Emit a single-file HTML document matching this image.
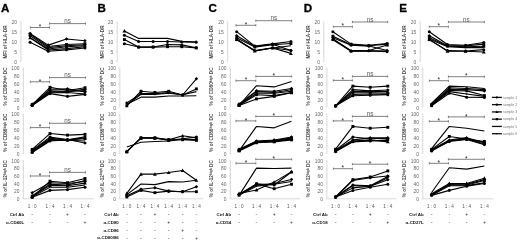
<!DOCTYPE html>
<html><head><meta charset="utf-8"><style>
html,body{margin:0;padding:0;background:#fff;width:520px;height:242px;overflow:hidden;}
svg{display:block;filter:blur(0.4px);}
</style></head><body>
<svg width="520" height="242" viewBox="0 0 520 242" font-family='"Liberation Sans", sans-serif'>
<rect width="520" height="242" fill="#fff"/>
<text x="1.00" y="11.7" font-size="11.6" font-weight="bold" fill="#000" stroke="#000" stroke-width="0.3">A</text>
<line x1="20.97" y1="22.00" x2="20.97" y2="61.50" stroke="#cfcfcf" stroke-width="0.8"/>
<line x1="19.77" y1="61.50" x2="20.97" y2="61.50" stroke="#cfcfcf" stroke-width="0.6"/>
<text x="17.07" y="63.70" font-size="4.9" fill="#666" text-anchor="end">0</text>
<line x1="19.77" y1="51.62" x2="20.97" y2="51.62" stroke="#cfcfcf" stroke-width="0.6"/>
<text x="17.07" y="53.83" font-size="4.9" fill="#666" text-anchor="end">5</text>
<line x1="19.77" y1="41.75" x2="20.97" y2="41.75" stroke="#cfcfcf" stroke-width="0.6"/>
<text x="17.07" y="43.95" font-size="4.9" fill="#666" text-anchor="end">10</text>
<line x1="19.77" y1="31.88" x2="20.97" y2="31.88" stroke="#cfcfcf" stroke-width="0.6"/>
<text x="17.07" y="34.08" font-size="4.9" fill="#666" text-anchor="end">15</text>
<line x1="19.77" y1="22.00" x2="20.97" y2="22.00" stroke="#cfcfcf" stroke-width="0.6"/>
<text x="17.07" y="24.20" font-size="4.9" fill="#666" text-anchor="end">20</text>
<text transform="translate(7.30 42.00) rotate(-90)" font-size="4.7" font-weight="bold" fill="#4a4a4a" text-anchor="middle">MFI of HLA-DR</text>
<path d="M30.40 26.40V28.60M30.40 27.50H49.50M49.50 26.40V28.60" stroke="#6a6a6a" stroke-width="0.85" fill="none"/>
<text x="39.95" y="29.20" font-size="6.5" fill="#222" text-anchor="middle">*</text>
<path d="M49.50 22.50V24.70M49.50 23.60H85.50M85.50 22.50V24.70" stroke="#6a6a6a" stroke-width="0.85" fill="none"/>
<text x="67.50" y="23.30" font-size="6.3" fill="#5a5a5a" text-anchor="middle">ns</text>
<path d="M30.10 33.45L48.20 45.11L66.50 38.98L84.90 40.76" stroke="#000" stroke-width="1.1" fill="none" stroke-linejoin="round"/>
<g fill="#000"><path d="M30.10 31.64L31.91 33.45L30.10 35.27L28.29 33.45Z"/><path d="M48.20 43.30L50.01 45.11L48.20 46.92L46.39 45.11Z"/><path d="M66.50 37.17L68.31 38.98L66.50 40.80L64.69 38.98Z"/><path d="M84.90 38.95L86.71 40.76L84.90 42.58L83.09 40.76Z"/></g>
<path d="M30.10 34.24L48.20 46.49L66.50 44.52L84.90 43.73" stroke="#000" stroke-width="1.1" fill="none" stroke-linejoin="round"/>
<g fill="#000"><rect x="28.65" y="32.79" width="2.90" height="2.90"/><rect x="46.75" y="45.04" width="2.90" height="2.90"/><rect x="65.05" y="43.06" width="2.90" height="2.90"/><rect x="83.45" y="42.27" width="2.90" height="2.90"/></g>
<path d="M30.10 35.83L48.20 47.67L66.50 45.70L84.90 44.71" stroke="#000" stroke-width="1.1" fill="none" stroke-linejoin="round"/>
<g fill="#000"><circle cx="30.10" cy="35.83" r="1.52"/><circle cx="48.20" cy="47.67" r="1.52"/><circle cx="66.50" cy="45.70" r="1.52"/><circle cx="84.90" cy="44.71" r="1.52"/></g>
<path d="M30.10 37.80L48.20 49.06L66.50 46.69L84.90 45.70" stroke="#000" stroke-width="1.1" fill="none" stroke-linejoin="round"/>
<g fill="#000"><path d="M30.10 35.91L31.99 39.31L28.21 39.31Z"/><path d="M48.20 47.17L50.09 50.57L46.32 50.57Z"/><path d="M66.50 44.80L68.39 48.20L64.61 48.20Z"/><path d="M84.90 43.82L86.79 47.21L83.02 47.21Z"/></g>
<path d="M30.10 37.80L48.20 50.05L66.50 48.66L84.90 46.69" stroke="#000" stroke-width="1.1" fill="none" stroke-linejoin="round"/>
<path d="M30.10 42.34L48.20 51.23L66.50 49.85L84.90 48.07" stroke="#000" stroke-width="1.1" fill="none" stroke-linejoin="round"/>
<g fill="#000"><circle cx="30.10" cy="42.34" r="1.52"/><circle cx="48.20" cy="51.23" r="1.52"/><circle cx="66.50" cy="49.85" r="1.52"/><circle cx="84.90" cy="48.07" r="1.52"/></g>
<line x1="23.40" y1="68.00" x2="23.40" y2="107.40" stroke="#cfcfcf" stroke-width="0.8"/>
<line x1="22.20" y1="107.40" x2="23.40" y2="107.40" stroke="#cfcfcf" stroke-width="0.6"/>
<text x="19.50" y="109.60" font-size="4.9" fill="#666" text-anchor="end">0</text>
<line x1="22.20" y1="99.52" x2="23.40" y2="99.52" stroke="#cfcfcf" stroke-width="0.6"/>
<text x="19.50" y="101.72" font-size="4.9" fill="#666" text-anchor="end">20</text>
<line x1="22.20" y1="91.64" x2="23.40" y2="91.64" stroke="#cfcfcf" stroke-width="0.6"/>
<text x="19.50" y="93.84" font-size="4.9" fill="#666" text-anchor="end">40</text>
<line x1="22.20" y1="83.76" x2="23.40" y2="83.76" stroke="#cfcfcf" stroke-width="0.6"/>
<text x="19.50" y="85.96" font-size="4.9" fill="#666" text-anchor="end">60</text>
<line x1="22.20" y1="75.88" x2="23.40" y2="75.88" stroke="#cfcfcf" stroke-width="0.6"/>
<text x="19.50" y="78.08" font-size="4.9" fill="#666" text-anchor="end">80</text>
<line x1="22.20" y1="68.00" x2="23.40" y2="68.00" stroke="#cfcfcf" stroke-width="0.6"/>
<text x="19.50" y="70.20" font-size="4.9" fill="#666" text-anchor="end">100</text>
<text transform="translate(7.30 86.40) rotate(-90)" font-size="4.7" font-weight="bold" fill="#4a4a4a" text-anchor="middle">% of CD80<tspan font-size="3.2" dy="-1.2">high</tspan><tspan dy="1.2"> DC</tspan></text>
<path d="M30.40 80.70V82.90M30.40 81.80H49.50M49.50 80.70V82.90" stroke="#6a6a6a" stroke-width="0.85" fill="none"/>
<text x="39.95" y="83.50" font-size="6.5" fill="#222" text-anchor="middle">*</text>
<path d="M49.50 76.50V78.70M49.50 77.60H85.50M85.50 76.50V78.70" stroke="#6a6a6a" stroke-width="0.85" fill="none"/>
<text x="67.50" y="77.30" font-size="6.3" fill="#5a5a5a" text-anchor="middle">ns</text>
<path d="M32.20 104.64L50.00 87.31L67.50 90.46L85.00 87.70" stroke="#000" stroke-width="1.1" fill="none" stroke-linejoin="round"/>
<g fill="#000"><rect x="30.75" y="103.19" width="2.90" height="2.90"/><rect x="48.55" y="85.86" width="2.90" height="2.90"/><rect x="66.05" y="89.01" width="2.90" height="2.90"/><rect x="83.55" y="86.25" width="2.90" height="2.90"/></g>
<path d="M32.20 105.04L50.00 89.28L67.50 88.88L85.00 92.03" stroke="#000" stroke-width="1.1" fill="none" stroke-linejoin="round"/>
<g fill="#000"><path d="M32.20 103.22L34.01 105.04L32.20 106.85L30.39 105.04Z"/><path d="M50.00 87.46L51.81 89.28L50.00 91.09L48.19 89.28Z"/><path d="M67.50 87.07L69.31 88.88L67.50 90.69L65.69 88.88Z"/><path d="M85.00 90.22L86.81 92.03L85.00 93.85L83.19 92.03Z"/></g>
<path d="M32.20 105.43L50.00 90.85L67.50 91.25L85.00 89.28" stroke="#000" stroke-width="1.1" fill="none" stroke-linejoin="round"/>
<g fill="#000"><circle cx="32.20" cy="105.43" r="1.52"/><circle cx="50.00" cy="90.85" r="1.52"/><circle cx="67.50" cy="91.25" r="1.52"/><circle cx="85.00" cy="89.28" r="1.52"/></g>
<path d="M32.20 104.25L50.00 92.03L67.50 91.64L85.00 90.46" stroke="#000" stroke-width="1.1" fill="none" stroke-linejoin="round"/>
<g fill="#000"><path d="M32.20 102.36L34.09 105.76L30.32 105.76Z"/><path d="M50.00 90.15L51.88 93.54L48.12 93.54Z"/><path d="M67.50 89.75L69.39 93.15L65.61 93.15Z"/><path d="M85.00 88.57L86.89 91.97L83.11 91.97Z"/></g>
<path d="M32.20 105.04L50.00 92.82L67.50 92.43L85.00 94.00" stroke="#000" stroke-width="1.1" fill="none" stroke-linejoin="round"/>
<path d="M32.20 105.43L50.00 93.61L67.50 96.37L85.00 94.40" stroke="#000" stroke-width="1.1" fill="none" stroke-linejoin="round"/>
<g fill="#000"><circle cx="32.20" cy="105.43" r="1.52"/><circle cx="50.00" cy="93.61" r="1.52"/><circle cx="67.50" cy="96.37" r="1.52"/><circle cx="85.00" cy="94.40" r="1.52"/></g>
<line x1="23.40" y1="114.20" x2="23.40" y2="153.70" stroke="#cfcfcf" stroke-width="0.8"/>
<line x1="22.20" y1="153.70" x2="23.40" y2="153.70" stroke="#cfcfcf" stroke-width="0.6"/>
<text x="19.50" y="155.90" font-size="4.9" fill="#666" text-anchor="end">0</text>
<line x1="22.20" y1="145.80" x2="23.40" y2="145.80" stroke="#cfcfcf" stroke-width="0.6"/>
<text x="19.50" y="148.00" font-size="4.9" fill="#666" text-anchor="end">20</text>
<line x1="22.20" y1="137.90" x2="23.40" y2="137.90" stroke="#cfcfcf" stroke-width="0.6"/>
<text x="19.50" y="140.10" font-size="4.9" fill="#666" text-anchor="end">40</text>
<line x1="22.20" y1="130.00" x2="23.40" y2="130.00" stroke="#cfcfcf" stroke-width="0.6"/>
<text x="19.50" y="132.20" font-size="4.9" fill="#666" text-anchor="end">60</text>
<line x1="22.20" y1="122.10" x2="23.40" y2="122.10" stroke="#cfcfcf" stroke-width="0.6"/>
<text x="19.50" y="124.30" font-size="4.9" fill="#666" text-anchor="end">80</text>
<line x1="22.20" y1="114.20" x2="23.40" y2="114.20" stroke="#cfcfcf" stroke-width="0.6"/>
<text x="19.50" y="116.40" font-size="4.9" fill="#666" text-anchor="end">100</text>
<text transform="translate(7.30 132.70) rotate(-90)" font-size="4.7" font-weight="bold" fill="#4a4a4a" text-anchor="middle">% of CD86<tspan font-size="3.2" dy="-1.2">high</tspan><tspan dy="1.2"> DC</tspan></text>
<path d="M30.40 126.50V128.70M30.40 127.60H49.50M49.50 126.50V128.70" stroke="#6a6a6a" stroke-width="0.85" fill="none"/>
<text x="39.95" y="129.30" font-size="6.5" fill="#222" text-anchor="middle">*</text>
<path d="M49.50 122.20V124.40M49.50 123.30H85.50M85.50 122.20V124.40" stroke="#6a6a6a" stroke-width="0.85" fill="none"/>
<text x="67.50" y="123.00" font-size="6.3" fill="#5a5a5a" text-anchor="middle">ns</text>
<path d="M32.20 149.35L50.00 133.56L67.50 135.13L85.00 134.34" stroke="#000" stroke-width="1.1" fill="none" stroke-linejoin="round"/>
<g fill="#000"><rect x="30.75" y="147.91" width="2.90" height="2.90"/><rect x="48.55" y="132.11" width="2.90" height="2.90"/><rect x="66.05" y="133.69" width="2.90" height="2.90"/><rect x="83.55" y="132.90" width="2.90" height="2.90"/></g>
<path d="M32.20 150.14L50.00 137.11L67.50 139.48L85.00 143.03" stroke="#000" stroke-width="1.1" fill="none" stroke-linejoin="round"/>
<g fill="#000"><path d="M32.20 148.33L34.01 150.14L32.20 151.96L30.39 150.14Z"/><path d="M50.00 135.30L51.81 137.11L50.00 138.92L48.19 137.11Z"/><path d="M67.50 137.67L69.31 139.48L67.50 141.29L65.69 139.48Z"/><path d="M85.00 141.22L86.81 143.03L85.00 144.85L83.19 143.03Z"/></g>
<path d="M32.20 150.94L50.00 138.29L67.50 139.88L85.00 136.72" stroke="#000" stroke-width="1.1" fill="none" stroke-linejoin="round"/>
<g fill="#000"><circle cx="32.20" cy="150.94" r="1.52"/><circle cx="50.00" cy="138.29" r="1.52"/><circle cx="67.50" cy="139.88" r="1.52"/><circle cx="85.00" cy="136.72" r="1.52"/></g>
<path d="M32.20 151.72L50.00 139.48L67.50 139.88L85.00 137.90" stroke="#000" stroke-width="1.1" fill="none" stroke-linejoin="round"/>
<g fill="#000"><path d="M32.20 149.84L34.09 153.23L30.32 153.23Z"/><path d="M50.00 137.59L51.88 140.99L48.12 140.99Z"/><path d="M67.50 137.99L69.39 141.38L65.61 141.38Z"/><path d="M85.00 136.02L86.89 139.41L83.11 139.41Z"/></g>
<path d="M32.20 152.12L50.00 140.27L67.50 140.27L85.00 141.06" stroke="#000" stroke-width="1.1" fill="none" stroke-linejoin="round"/>
<path d="M32.20 152.51L50.00 141.06L67.50 139.88L85.00 138.69" stroke="#000" stroke-width="1.1" fill="none" stroke-linejoin="round"/>
<g fill="#000"><circle cx="32.20" cy="152.51" r="1.52"/><circle cx="50.00" cy="141.06" r="1.52"/><circle cx="67.50" cy="139.88" r="1.52"/><circle cx="85.00" cy="138.69" r="1.52"/></g>
<line x1="23.40" y1="160.50" x2="23.40" y2="198.80" stroke="#cfcfcf" stroke-width="0.8"/>
<line x1="23.40" y1="198.80" x2="93.80" y2="198.80" stroke="#cfcfcf" stroke-width="0.8"/>
<line x1="22.20" y1="198.80" x2="23.40" y2="198.80" stroke="#cfcfcf" stroke-width="0.6"/>
<text x="19.50" y="201.00" font-size="4.9" fill="#666" text-anchor="end">0</text>
<line x1="22.20" y1="191.14" x2="23.40" y2="191.14" stroke="#cfcfcf" stroke-width="0.6"/>
<text x="19.50" y="193.34" font-size="4.9" fill="#666" text-anchor="end">20</text>
<line x1="22.20" y1="183.48" x2="23.40" y2="183.48" stroke="#cfcfcf" stroke-width="0.6"/>
<text x="19.50" y="185.68" font-size="4.9" fill="#666" text-anchor="end">40</text>
<line x1="22.20" y1="175.82" x2="23.40" y2="175.82" stroke="#cfcfcf" stroke-width="0.6"/>
<text x="19.50" y="178.02" font-size="4.9" fill="#666" text-anchor="end">60</text>
<line x1="22.20" y1="168.16" x2="23.40" y2="168.16" stroke="#cfcfcf" stroke-width="0.6"/>
<text x="19.50" y="170.36" font-size="4.9" fill="#666" text-anchor="end">80</text>
<line x1="22.20" y1="160.50" x2="23.40" y2="160.50" stroke="#cfcfcf" stroke-width="0.6"/>
<text x="19.50" y="162.70" font-size="4.9" fill="#666" text-anchor="end">100</text>
<text transform="translate(7.30 178.70) rotate(-90)" font-size="4.7" font-weight="bold" fill="#4a4a4a" text-anchor="middle">% of IL-12<tspan font-size="3.2" dy="-1.2">high</tspan><tspan dy="1.2"> DC</tspan></text>
<path d="M30.40 174.90V177.10M30.40 176.00H49.50M49.50 174.90V177.10" stroke="#6a6a6a" stroke-width="0.85" fill="none"/>
<text x="39.95" y="177.70" font-size="6.5" fill="#222" text-anchor="middle">*</text>
<path d="M49.50 171.30V173.50M49.50 172.40H85.50M85.50 171.30V173.50" stroke="#6a6a6a" stroke-width="0.85" fill="none"/>
<text x="67.50" y="172.10" font-size="6.3" fill="#5a5a5a" text-anchor="middle">ns</text>
<path d="M32.20 197.27L50.00 181.18L67.50 182.71L85.00 178.50" stroke="#000" stroke-width="1.1" fill="none" stroke-linejoin="round"/>
<g fill="#000"><rect x="30.75" y="195.82" width="2.90" height="2.90"/><rect x="48.55" y="179.73" width="2.90" height="2.90"/><rect x="66.05" y="181.26" width="2.90" height="2.90"/><rect x="83.55" y="177.05" width="2.90" height="2.90"/></g>
<path d="M32.20 192.79L50.00 182.71L67.50 183.48L85.00 181.56" stroke="#000" stroke-width="1.1" fill="none" stroke-linejoin="round"/>
<g fill="#000"><path d="M32.20 190.97L34.01 192.79L32.20 194.60L30.39 192.79Z"/><path d="M50.00 180.90L51.81 182.71L50.00 184.53L48.19 182.71Z"/><path d="M67.50 181.67L69.31 183.48L67.50 185.29L65.69 183.48Z"/><path d="M85.00 179.75L86.81 181.56L85.00 183.38L83.19 181.56Z"/></g>
<path d="M32.20 195.74L50.00 184.25L67.50 185.01L85.00 180.42" stroke="#000" stroke-width="1.1" fill="none" stroke-linejoin="round"/>
<g fill="#000"><circle cx="32.20" cy="195.74" r="1.52"/><circle cx="50.00" cy="184.25" r="1.52"/><circle cx="67.50" cy="185.01" r="1.52"/><circle cx="85.00" cy="180.42" r="1.52"/></g>
<path d="M32.20 196.50L50.00 185.40L67.50 185.78L85.00 183.10" stroke="#000" stroke-width="1.1" fill="none" stroke-linejoin="round"/>
<g fill="#000"><path d="M32.20 194.62L34.09 198.01L30.32 198.01Z"/><path d="M50.00 183.51L51.88 186.90L48.12 186.90Z"/><path d="M67.50 183.89L69.39 187.29L65.61 187.29Z"/><path d="M85.00 181.21L86.89 184.61L83.11 184.61Z"/></g>
<path d="M32.20 196.89L50.00 187.31L67.50 187.31L85.00 185.01" stroke="#000" stroke-width="1.1" fill="none" stroke-linejoin="round"/>
<path d="M32.20 197.27L50.00 190.37L67.50 189.61L85.00 187.31" stroke="#000" stroke-width="1.1" fill="none" stroke-linejoin="round"/>
<g fill="#000"><circle cx="32.20" cy="197.27" r="1.52"/><circle cx="50.00" cy="190.37" r="1.52"/><circle cx="67.50" cy="189.61" r="1.52"/><circle cx="85.00" cy="187.31" r="1.52"/></g>
<text x="32.20" y="208.1" font-size="4.6" fill="#555" text-anchor="middle">1 : 0</text>
<text x="50.00" y="208.1" font-size="4.6" fill="#555" text-anchor="middle">1 : 4</text>
<text x="67.50" y="208.1" font-size="4.6" fill="#555" text-anchor="middle">1 : 4</text>
<text x="85.00" y="208.1" font-size="4.6" fill="#555" text-anchor="middle">1 : 4</text>
<text x="24.20" y="215.80" font-size="4.4" font-weight="bold" fill="#111" text-anchor="end">Ctrl Ab</text>
<text x="32.20" y="216.00" font-size="5.5" fill="#555" text-anchor="middle">-</text>
<text x="50.00" y="216.00" font-size="5.5" fill="#555" text-anchor="middle">-</text>
<text x="67.50" y="216.30" font-size="5.0" fill="#333" text-anchor="middle">+</text>
<text x="85.00" y="216.00" font-size="5.5" fill="#555" text-anchor="middle">-</text>
<text x="24.20" y="223.90" font-size="4.4" font-weight="bold" fill="#111" text-anchor="end">α-CD40L</text>
<text x="32.20" y="224.10" font-size="5.5" fill="#555" text-anchor="middle">-</text>
<text x="50.00" y="224.10" font-size="5.5" fill="#555" text-anchor="middle">-</text>
<text x="67.50" y="224.10" font-size="5.5" fill="#555" text-anchor="middle">-</text>
<text x="85.00" y="224.40" font-size="5.0" fill="#333" text-anchor="middle">+</text>
<text x="97.60" y="11.7" font-size="11.6" font-weight="bold" fill="#000" stroke="#000" stroke-width="0.3">B</text>
<line x1="117.22" y1="22.00" x2="117.22" y2="61.50" stroke="#cfcfcf" stroke-width="0.8"/>
<line x1="116.02" y1="61.50" x2="117.22" y2="61.50" stroke="#cfcfcf" stroke-width="0.6"/>
<text x="113.32" y="63.70" font-size="4.9" fill="#666" text-anchor="end">0</text>
<line x1="116.02" y1="51.62" x2="117.22" y2="51.62" stroke="#cfcfcf" stroke-width="0.6"/>
<text x="113.32" y="53.83" font-size="4.9" fill="#666" text-anchor="end">5</text>
<line x1="116.02" y1="41.75" x2="117.22" y2="41.75" stroke="#cfcfcf" stroke-width="0.6"/>
<text x="113.32" y="43.95" font-size="4.9" fill="#666" text-anchor="end">10</text>
<line x1="116.02" y1="31.88" x2="117.22" y2="31.88" stroke="#cfcfcf" stroke-width="0.6"/>
<text x="113.32" y="34.08" font-size="4.9" fill="#666" text-anchor="end">15</text>
<line x1="116.02" y1="22.00" x2="117.22" y2="22.00" stroke="#cfcfcf" stroke-width="0.6"/>
<text x="113.32" y="24.20" font-size="4.9" fill="#666" text-anchor="end">20</text>
<text transform="translate(103.60 42.00) rotate(-90)" font-size="4.7" font-weight="bold" fill="#4a4a4a" text-anchor="middle">MFI of HLA-DR</text>
<path d="M124.40 30.89L138.60 38.39L153.10 38.39L167.50 38.39L181.80 41.36L196.20 41.95" stroke="#000" stroke-width="1.1" fill="none" stroke-linejoin="round"/>
<g fill="#000"><path d="M124.40 29.00L126.29 32.40L122.52 32.40Z"/></g>
<path d="M124.40 35.23L138.60 41.55L153.10 41.55L167.50 41.55L181.80 41.95L196.20 42.14" stroke="#000" stroke-width="1.1" fill="none" stroke-linejoin="round"/>
<g fill="#000"><circle cx="124.40" cy="35.23" r="1.52"/><circle cx="138.60" cy="41.55" r="1.52"/><circle cx="153.10" cy="41.55" r="1.52"/><circle cx="167.50" cy="41.55" r="1.52"/><circle cx="181.80" cy="41.95" r="1.52"/><circle cx="196.20" cy="42.14" r="1.52"/></g>
<path d="M124.40 39.58L138.60 47.08L153.10 47.08L167.50 46.69L181.80 46.69L196.20 47.87" stroke="#000" stroke-width="1.1" fill="none" stroke-linejoin="round"/>
<g fill="#000"><rect x="122.95" y="38.13" width="2.90" height="2.90"/><rect x="137.15" y="45.63" width="2.90" height="2.90"/><rect x="151.65" y="45.63" width="2.90" height="2.90"/><rect x="166.05" y="45.24" width="2.90" height="2.90"/><rect x="180.35" y="45.24" width="2.90" height="2.90"/><rect x="194.75" y="46.42" width="2.90" height="2.90"/></g>
<path d="M124.40 43.73L138.60 47.08L153.10 47.08L167.50 44.52L181.80 44.91L196.20 47.67" stroke="#000" stroke-width="1.1" fill="none" stroke-linejoin="round"/>
<g fill="#000"><circle cx="124.40" cy="43.73" r="1.52"/><circle cx="138.60" cy="47.08" r="1.52"/><circle cx="153.10" cy="47.08" r="1.52"/><circle cx="167.50" cy="44.52" r="1.52"/><circle cx="181.80" cy="44.91" r="1.52"/><circle cx="196.20" cy="47.67" r="1.52"/></g>
<line x1="119.84" y1="68.00" x2="119.84" y2="107.40" stroke="#cfcfcf" stroke-width="0.8"/>
<line x1="118.64" y1="107.40" x2="119.84" y2="107.40" stroke="#cfcfcf" stroke-width="0.6"/>
<text x="115.94" y="109.60" font-size="4.9" fill="#666" text-anchor="end">0</text>
<line x1="118.64" y1="99.52" x2="119.84" y2="99.52" stroke="#cfcfcf" stroke-width="0.6"/>
<text x="115.94" y="101.72" font-size="4.9" fill="#666" text-anchor="end">20</text>
<line x1="118.64" y1="91.64" x2="119.84" y2="91.64" stroke="#cfcfcf" stroke-width="0.6"/>
<text x="115.94" y="93.84" font-size="4.9" fill="#666" text-anchor="end">40</text>
<line x1="118.64" y1="83.76" x2="119.84" y2="83.76" stroke="#cfcfcf" stroke-width="0.6"/>
<text x="115.94" y="85.96" font-size="4.9" fill="#666" text-anchor="end">60</text>
<line x1="118.64" y1="75.88" x2="119.84" y2="75.88" stroke="#cfcfcf" stroke-width="0.6"/>
<text x="115.94" y="78.08" font-size="4.9" fill="#666" text-anchor="end">80</text>
<line x1="118.64" y1="68.00" x2="119.84" y2="68.00" stroke="#cfcfcf" stroke-width="0.6"/>
<text x="115.94" y="70.20" font-size="4.9" fill="#666" text-anchor="end">100</text>
<text transform="translate(103.60 86.40) rotate(-90)" font-size="4.7" font-weight="bold" fill="#4a4a4a" text-anchor="middle">% of CD80<tspan font-size="3.2" dy="-1.2">high</tspan><tspan dy="1.2"> DC</tspan></text>
<path d="M126.80 103.07L141.00 93.61L154.90 93.61L168.70 92.43L182.60 94.99L196.40 78.80" stroke="#000" stroke-width="1.1" fill="none" stroke-linejoin="round"/>
<g fill="#000"><path d="M126.80 101.25L128.61 103.07L126.80 104.88L124.99 103.07Z"/><path d="M141.00 91.80L142.81 93.61L141.00 95.42L139.19 93.61Z"/><path d="M154.90 91.80L156.71 93.61L154.90 95.42L153.09 93.61Z"/><path d="M168.70 90.62L170.51 92.43L168.70 94.24L166.89 92.43Z"/><path d="M182.60 93.18L184.41 94.99L182.60 96.80L180.79 94.99Z"/><path d="M196.40 76.98L198.21 78.80L196.40 80.61L194.59 78.80Z"/></g>
<path d="M126.80 105.82L141.00 91.25L154.90 92.43L168.70 91.25L182.60 94.99L196.40 88.88" stroke="#000" stroke-width="1.1" fill="none" stroke-linejoin="round"/>
<g fill="#000"><rect x="125.35" y="104.37" width="2.90" height="2.90"/><rect x="139.55" y="89.80" width="2.90" height="2.90"/><rect x="153.45" y="90.98" width="2.90" height="2.90"/><rect x="167.25" y="89.80" width="2.90" height="2.90"/><rect x="181.15" y="93.54" width="2.90" height="2.90"/><rect x="194.95" y="87.43" width="2.90" height="2.90"/></g>
<path d="M126.80 105.04L141.00 94.40L154.90 94.40L168.70 93.22L182.60 94.79L196.40 91.64" stroke="#000" stroke-width="1.1" fill="none" stroke-linejoin="round"/>
<path d="M126.80 104.25L141.00 97.16L154.90 97.16L168.70 95.97L182.60 95.97L196.40 95.82" stroke="#000" stroke-width="1.1" fill="none" stroke-linejoin="round"/>
<line x1="119.84" y1="114.20" x2="119.84" y2="153.70" stroke="#cfcfcf" stroke-width="0.8"/>
<line x1="118.64" y1="153.70" x2="119.84" y2="153.70" stroke="#cfcfcf" stroke-width="0.6"/>
<text x="115.94" y="155.90" font-size="4.9" fill="#666" text-anchor="end">0</text>
<line x1="118.64" y1="145.80" x2="119.84" y2="145.80" stroke="#cfcfcf" stroke-width="0.6"/>
<text x="115.94" y="148.00" font-size="4.9" fill="#666" text-anchor="end">20</text>
<line x1="118.64" y1="137.90" x2="119.84" y2="137.90" stroke="#cfcfcf" stroke-width="0.6"/>
<text x="115.94" y="140.10" font-size="4.9" fill="#666" text-anchor="end">40</text>
<line x1="118.64" y1="130.00" x2="119.84" y2="130.00" stroke="#cfcfcf" stroke-width="0.6"/>
<text x="115.94" y="132.20" font-size="4.9" fill="#666" text-anchor="end">60</text>
<line x1="118.64" y1="122.10" x2="119.84" y2="122.10" stroke="#cfcfcf" stroke-width="0.6"/>
<text x="115.94" y="124.30" font-size="4.9" fill="#666" text-anchor="end">80</text>
<line x1="118.64" y1="114.20" x2="119.84" y2="114.20" stroke="#cfcfcf" stroke-width="0.6"/>
<text x="115.94" y="116.40" font-size="4.9" fill="#666" text-anchor="end">100</text>
<text transform="translate(103.60 132.70) rotate(-90)" font-size="4.7" font-weight="bold" fill="#4a4a4a" text-anchor="middle">% of CD86<tspan font-size="3.2" dy="-1.2">high</tspan><tspan dy="1.2"> DC</tspan></text>
<path d="M126.80 151.72L141.00 137.70L154.90 137.70L168.70 140.39L182.60 138.69L196.40 137.11" stroke="#000" stroke-width="1.1" fill="none" stroke-linejoin="round"/>
<g fill="#000"><circle cx="126.80" cy="151.72" r="1.52"/><circle cx="141.00" cy="137.70" r="1.52"/><circle cx="154.90" cy="137.70" r="1.52"/><circle cx="168.70" cy="140.39" r="1.52"/><circle cx="182.60" cy="138.69" r="1.52"/><circle cx="196.40" cy="137.11" r="1.52"/></g>
<path d="M126.80 151.92L141.00 137.90L154.90 137.90L168.70 139.48L182.60 139.76L196.40 140.39" stroke="#000" stroke-width="1.1" fill="none" stroke-linejoin="round"/>
<g fill="#000"><rect x="125.35" y="150.47" width="2.90" height="2.90"/><rect x="139.55" y="136.45" width="2.90" height="2.90"/><rect x="153.45" y="136.45" width="2.90" height="2.90"/><rect x="167.25" y="138.03" width="2.90" height="2.90"/><rect x="181.15" y="138.31" width="2.90" height="2.90"/><rect x="194.95" y="138.94" width="2.90" height="2.90"/></g>
<path d="M126.80 151.33L141.00 138.29L154.90 138.29L168.70 139.88L182.60 135.77L196.40 137.90" stroke="#000" stroke-width="1.1" fill="none" stroke-linejoin="round"/>
<g fill="#000"><path d="M126.80 149.44L128.69 152.84L124.91 152.84Z"/><path d="M141.00 136.41L142.88 139.80L139.12 139.80Z"/><path d="M154.90 136.41L156.78 139.80L153.02 139.80Z"/><path d="M168.70 137.99L170.58 141.38L166.81 141.38Z"/><path d="M182.60 133.88L184.48 137.28L180.72 137.28Z"/><path d="M196.40 136.02L198.28 139.41L194.52 139.41Z"/></g>
<path d="M126.80 146.98L141.00 142.25L154.90 141.45L168.70 141.06L182.60 139.48L196.40 139.48" stroke="#000" stroke-width="1.1" fill="none" stroke-linejoin="round"/>
<line x1="119.84" y1="160.50" x2="119.84" y2="198.80" stroke="#cfcfcf" stroke-width="0.8"/>
<line x1="119.84" y1="198.80" x2="203.36" y2="198.80" stroke="#cfcfcf" stroke-width="0.8"/>
<line x1="118.64" y1="198.80" x2="119.84" y2="198.80" stroke="#cfcfcf" stroke-width="0.6"/>
<text x="115.94" y="201.00" font-size="4.9" fill="#666" text-anchor="end">0</text>
<line x1="118.64" y1="191.14" x2="119.84" y2="191.14" stroke="#cfcfcf" stroke-width="0.6"/>
<text x="115.94" y="193.34" font-size="4.9" fill="#666" text-anchor="end">20</text>
<line x1="118.64" y1="183.48" x2="119.84" y2="183.48" stroke="#cfcfcf" stroke-width="0.6"/>
<text x="115.94" y="185.68" font-size="4.9" fill="#666" text-anchor="end">40</text>
<line x1="118.64" y1="175.82" x2="119.84" y2="175.82" stroke="#cfcfcf" stroke-width="0.6"/>
<text x="115.94" y="178.02" font-size="4.9" fill="#666" text-anchor="end">60</text>
<line x1="118.64" y1="168.16" x2="119.84" y2="168.16" stroke="#cfcfcf" stroke-width="0.6"/>
<text x="115.94" y="170.36" font-size="4.9" fill="#666" text-anchor="end">80</text>
<line x1="118.64" y1="160.50" x2="119.84" y2="160.50" stroke="#cfcfcf" stroke-width="0.6"/>
<text x="115.94" y="162.70" font-size="4.9" fill="#666" text-anchor="end">100</text>
<text transform="translate(103.60 178.70) rotate(-90)" font-size="4.7" font-weight="bold" fill="#4a4a4a" text-anchor="middle">% of IL-12<tspan font-size="3.2" dy="-1.2">high</tspan><tspan dy="1.2"> DC</tspan></text>
<path d="M126.80 193.44L141.00 174.13L154.90 174.13L168.70 172.53L182.60 170.46L196.40 180.26" stroke="#000" stroke-width="1.1" fill="none" stroke-linejoin="round"/>
<g fill="#000"><path d="M126.80 191.55L128.69 194.95L124.91 194.95Z"/><path d="M141.00 172.25L142.88 175.64L139.12 175.64Z"/><path d="M154.90 172.25L156.78 175.64L153.02 175.64Z"/><path d="M168.70 170.64L170.58 174.03L166.81 174.03Z"/><path d="M182.60 168.57L184.48 171.97L180.72 171.97Z"/><path d="M196.40 178.38L198.28 181.77L194.52 181.77Z"/></g>
<path d="M126.80 194.59L141.00 183.98L154.90 184.63L168.70 181.64L182.60 182.06L196.40 180.26" stroke="#000" stroke-width="1.1" fill="none" stroke-linejoin="round"/>
<path d="M126.80 195.74L141.00 189.26L154.90 187.69L168.70 191.14L182.60 191.68L196.40 186.77" stroke="#000" stroke-width="1.1" fill="none" stroke-linejoin="round"/>
<g fill="#000"><path d="M126.80 193.92L128.61 195.74L126.80 197.55L124.99 195.74Z"/><path d="M141.00 187.45L142.81 189.26L141.00 191.08L139.19 189.26Z"/><path d="M154.90 185.88L156.71 187.69L154.90 189.51L153.09 187.69Z"/><path d="M168.70 189.33L170.51 191.14L168.70 192.95L166.89 191.14Z"/><path d="M182.60 189.86L184.41 191.68L182.60 193.49L180.79 191.68Z"/><path d="M196.40 184.96L198.21 186.77L196.40 188.59L194.59 186.77Z"/></g>
<path d="M126.80 196.89L141.00 190.37L154.90 192.67L168.70 191.14L182.60 191.68L196.40 191.68" stroke="#000" stroke-width="1.1" fill="none" stroke-linejoin="round"/>
<g fill="#000"><rect x="125.35" y="195.44" width="2.90" height="2.90"/><rect x="139.55" y="188.92" width="2.90" height="2.90"/><rect x="153.45" y="191.22" width="2.90" height="2.90"/><rect x="167.25" y="189.69" width="2.90" height="2.90"/><rect x="181.15" y="190.23" width="2.90" height="2.90"/><rect x="194.95" y="190.23" width="2.90" height="2.90"/></g>
<text x="126.80" y="208.1" font-size="4.6" fill="#555" text-anchor="middle">1 : 0</text>
<text x="141.00" y="208.1" font-size="4.6" fill="#555" text-anchor="middle">1 : 4</text>
<text x="154.90" y="208.1" font-size="4.6" fill="#555" text-anchor="middle">1 : 4</text>
<text x="168.70" y="208.1" font-size="4.6" fill="#555" text-anchor="middle">1 : 4</text>
<text x="182.60" y="208.1" font-size="4.6" fill="#555" text-anchor="middle">1 : 4</text>
<text x="196.40" y="208.1" font-size="4.6" fill="#555" text-anchor="middle">1 : 4</text>
<text x="118.80" y="215.80" font-size="4.4" font-weight="bold" fill="#111" text-anchor="end">Ctrl Ab</text>
<text x="126.80" y="216.00" font-size="5.5" fill="#555" text-anchor="middle">-</text>
<text x="141.00" y="216.00" font-size="5.5" fill="#555" text-anchor="middle">-</text>
<text x="154.90" y="216.30" font-size="5.0" fill="#333" text-anchor="middle">+</text>
<text x="168.70" y="216.00" font-size="5.5" fill="#555" text-anchor="middle">-</text>
<text x="182.60" y="216.00" font-size="5.5" fill="#555" text-anchor="middle">-</text>
<text x="196.40" y="216.00" font-size="5.5" fill="#555" text-anchor="middle">-</text>
<text x="118.80" y="223.70" font-size="4.4" font-weight="bold" fill="#111" text-anchor="end">α-CD80</text>
<text x="126.80" y="223.90" font-size="5.5" fill="#555" text-anchor="middle">-</text>
<text x="141.00" y="223.90" font-size="5.5" fill="#555" text-anchor="middle">-</text>
<text x="154.90" y="223.90" font-size="5.5" fill="#555" text-anchor="middle">-</text>
<text x="168.70" y="224.20" font-size="5.0" fill="#333" text-anchor="middle">+</text>
<text x="182.60" y="223.90" font-size="5.5" fill="#555" text-anchor="middle">-</text>
<text x="196.40" y="223.90" font-size="5.5" fill="#555" text-anchor="middle">-</text>
<text x="118.80" y="231.50" font-size="4.4" font-weight="bold" fill="#111" text-anchor="end">α-CD86</text>
<text x="126.80" y="231.70" font-size="5.5" fill="#555" text-anchor="middle">-</text>
<text x="141.00" y="231.70" font-size="5.5" fill="#555" text-anchor="middle">-</text>
<text x="154.90" y="231.70" font-size="5.5" fill="#555" text-anchor="middle">-</text>
<text x="168.70" y="231.70" font-size="5.5" fill="#555" text-anchor="middle">-</text>
<text x="182.60" y="232.00" font-size="5.0" fill="#333" text-anchor="middle">+</text>
<text x="196.40" y="231.70" font-size="5.5" fill="#555" text-anchor="middle">-</text>
<text x="118.80" y="239.30" font-size="4.4" font-weight="bold" fill="#111" text-anchor="end">α-CD80/86</text>
<text x="126.80" y="239.50" font-size="5.5" fill="#555" text-anchor="middle">-</text>
<text x="141.00" y="239.50" font-size="5.5" fill="#555" text-anchor="middle">-</text>
<text x="154.90" y="239.50" font-size="5.5" fill="#555" text-anchor="middle">-</text>
<text x="168.70" y="239.50" font-size="5.5" fill="#555" text-anchor="middle">-</text>
<text x="182.60" y="239.50" font-size="5.5" fill="#555" text-anchor="middle">-</text>
<text x="196.40" y="239.80" font-size="5.0" fill="#333" text-anchor="middle">+</text>
<text x="208.40" y="11.7" font-size="11.6" font-weight="bold" fill="#000" stroke="#000" stroke-width="0.3">C</text>
<line x1="227.67" y1="22.00" x2="227.67" y2="61.50" stroke="#cfcfcf" stroke-width="0.8"/>
<line x1="226.47" y1="61.50" x2="227.67" y2="61.50" stroke="#cfcfcf" stroke-width="0.6"/>
<text x="223.77" y="63.70" font-size="4.9" fill="#666" text-anchor="end">0</text>
<line x1="226.47" y1="51.62" x2="227.67" y2="51.62" stroke="#cfcfcf" stroke-width="0.6"/>
<text x="223.77" y="53.83" font-size="4.9" fill="#666" text-anchor="end">5</text>
<line x1="226.47" y1="41.75" x2="227.67" y2="41.75" stroke="#cfcfcf" stroke-width="0.6"/>
<text x="223.77" y="43.95" font-size="4.9" fill="#666" text-anchor="end">10</text>
<line x1="226.47" y1="31.88" x2="227.67" y2="31.88" stroke="#cfcfcf" stroke-width="0.6"/>
<text x="223.77" y="34.08" font-size="4.9" fill="#666" text-anchor="end">15</text>
<line x1="226.47" y1="22.00" x2="227.67" y2="22.00" stroke="#cfcfcf" stroke-width="0.6"/>
<text x="223.77" y="24.20" font-size="4.9" fill="#666" text-anchor="end">20</text>
<text transform="translate(213.30 42.00) rotate(-90)" font-size="4.7" font-weight="bold" fill="#4a4a4a" text-anchor="middle">MFI of HLA-DR</text>
<path d="M236.00 24.20V26.40M236.00 25.30H255.80M255.80 24.20V26.40" stroke="#6a6a6a" stroke-width="0.85" fill="none"/>
<text x="245.90" y="27.00" font-size="6.5" fill="#222" text-anchor="middle">*</text>
<path d="M255.80 19.60V21.80M255.80 20.70H291.70M291.70 19.60V21.80" stroke="#6a6a6a" stroke-width="0.85" fill="none"/>
<text x="273.75" y="20.40" font-size="6.3" fill="#5a5a5a" text-anchor="middle">ns</text>
<path d="M236.70 31.68L254.80 46.09L272.70 43.92L290.90 41.55" stroke="#000" stroke-width="1.1" fill="none" stroke-linejoin="round"/>
<g fill="#000"><circle cx="236.70" cy="31.68" r="1.52"/><circle cx="254.80" cy="46.09" r="1.52"/><circle cx="272.70" cy="43.92" r="1.52"/><circle cx="290.90" cy="41.55" r="1.52"/></g>
<path d="M236.70 35.83L254.80 46.29L272.70 44.32L290.90 50.44" stroke="#000" stroke-width="1.1" fill="none" stroke-linejoin="round"/>
<g fill="#000"><path d="M236.70 34.01L238.51 35.83L236.70 37.64L234.89 35.83Z"/><path d="M254.80 44.48L256.61 46.29L254.80 48.10L252.99 46.29Z"/><path d="M272.70 42.51L274.51 44.32L272.70 46.13L270.89 44.32Z"/><path d="M290.90 48.63L292.71 50.44L290.90 52.25L289.09 50.44Z"/></g>
<path d="M236.70 37.80L254.80 47.08L272.70 44.71L290.90 43.53" stroke="#000" stroke-width="1.1" fill="none" stroke-linejoin="round"/>
<g fill="#000"><rect x="235.25" y="36.35" width="2.90" height="2.90"/><rect x="253.35" y="45.63" width="2.90" height="2.90"/><rect x="271.25" y="43.26" width="2.90" height="2.90"/><rect x="289.45" y="42.08" width="2.90" height="2.90"/></g>
<path d="M236.70 38.98L254.80 51.03L272.70 48.07L290.90 45.70" stroke="#000" stroke-width="1.1" fill="none" stroke-linejoin="round"/>
<path d="M236.70 39.38L254.80 51.03L272.70 48.07L290.90 53.40" stroke="#000" stroke-width="1.1" fill="none" stroke-linejoin="round"/>
<g fill="#000"><path d="M236.70 37.50L238.58 40.89L234.81 40.89Z"/><path d="M254.80 49.15L256.69 52.54L252.92 52.54Z"/><path d="M272.70 46.19L274.58 49.58L270.81 49.58Z"/><path d="M290.90 51.52L292.78 54.91L289.01 54.91Z"/></g>
<path d="M236.70 39.77L254.80 50.44L272.70 47.67L290.90 50.44" stroke="#000" stroke-width="1.1" fill="none" stroke-linejoin="round"/>
<g fill="#000"><circle cx="236.70" cy="39.77" r="1.52"/><circle cx="254.80" cy="50.44" r="1.52"/><circle cx="272.70" cy="47.67" r="1.52"/><circle cx="290.90" cy="50.44" r="1.52"/></g>
<line x1="230.37" y1="68.00" x2="230.37" y2="107.40" stroke="#cfcfcf" stroke-width="0.8"/>
<line x1="229.17" y1="107.40" x2="230.37" y2="107.40" stroke="#cfcfcf" stroke-width="0.6"/>
<text x="226.47" y="109.60" font-size="4.9" fill="#666" text-anchor="end">0</text>
<line x1="229.17" y1="99.52" x2="230.37" y2="99.52" stroke="#cfcfcf" stroke-width="0.6"/>
<text x="226.47" y="101.72" font-size="4.9" fill="#666" text-anchor="end">20</text>
<line x1="229.17" y1="91.64" x2="230.37" y2="91.64" stroke="#cfcfcf" stroke-width="0.6"/>
<text x="226.47" y="93.84" font-size="4.9" fill="#666" text-anchor="end">40</text>
<line x1="229.17" y1="83.76" x2="230.37" y2="83.76" stroke="#cfcfcf" stroke-width="0.6"/>
<text x="226.47" y="85.96" font-size="4.9" fill="#666" text-anchor="end">60</text>
<line x1="229.17" y1="75.88" x2="230.37" y2="75.88" stroke="#cfcfcf" stroke-width="0.6"/>
<text x="226.47" y="78.08" font-size="4.9" fill="#666" text-anchor="end">80</text>
<line x1="229.17" y1="68.00" x2="230.37" y2="68.00" stroke="#cfcfcf" stroke-width="0.6"/>
<text x="226.47" y="70.20" font-size="4.9" fill="#666" text-anchor="end">100</text>
<text transform="translate(213.30 86.40) rotate(-90)" font-size="4.7" font-weight="bold" fill="#4a4a4a" text-anchor="middle">% of CD80<tspan font-size="3.2" dy="-1.2">high</tspan><tspan dy="1.2"> DC</tspan></text>
<path d="M236.00 79.60V81.80M236.00 80.70H255.80M255.80 79.60V81.80" stroke="#6a6a6a" stroke-width="0.85" fill="none"/>
<text x="245.90" y="82.40" font-size="6.5" fill="#222" text-anchor="middle">*</text>
<path d="M255.80 75.30V77.50M255.80 76.40H291.70M291.70 75.30V77.50" stroke="#6a6a6a" stroke-width="0.85" fill="none"/>
<text x="273.75" y="78.10" font-size="6.5" fill="#222" text-anchor="middle">*</text>
<path d="M239.10 105.43L256.50 85.73L274.20 86.91L291.50 81.40" stroke="#000" stroke-width="1.1" fill="none" stroke-linejoin="round"/>
<path d="M239.10 104.01L256.50 90.85L274.20 91.25L291.50 88.49" stroke="#000" stroke-width="1.1" fill="none" stroke-linejoin="round"/>
<g fill="#000"><path d="M239.10 102.20L240.91 104.01L239.10 105.82L237.29 104.01Z"/><path d="M256.50 89.04L258.31 90.85L256.50 92.66L254.69 90.85Z"/><path d="M274.20 89.43L276.01 91.25L274.20 93.06L272.39 91.25Z"/><path d="M291.50 86.68L293.31 88.49L291.50 90.30L289.69 88.49Z"/></g>
<path d="M239.10 104.64L256.50 91.64L274.20 92.43L291.50 89.67" stroke="#000" stroke-width="1.1" fill="none" stroke-linejoin="round"/>
<g fill="#000"><circle cx="239.10" cy="104.64" r="1.52"/><circle cx="256.50" cy="91.64" r="1.52"/><circle cx="274.20" cy="92.43" r="1.52"/><circle cx="291.50" cy="89.67" r="1.52"/></g>
<path d="M239.10 105.04L256.50 93.22L274.20 93.22L291.50 91.25" stroke="#000" stroke-width="1.1" fill="none" stroke-linejoin="round"/>
<g fill="#000"><path d="M239.10 103.15L240.98 106.54L237.22 106.54Z"/><path d="M256.50 91.33L258.38 94.72L254.62 94.72Z"/><path d="M274.20 91.33L276.08 94.72L272.31 94.72Z"/><path d="M291.50 89.36L293.38 92.75L289.62 92.75Z"/></g>
<path d="M239.10 105.43L256.50 94.79L274.20 95.58L291.50 92.43" stroke="#000" stroke-width="1.1" fill="none" stroke-linejoin="round"/>
<g fill="#000"><circle cx="239.10" cy="105.43" r="1.52"/><circle cx="256.50" cy="94.79" r="1.52"/><circle cx="274.20" cy="95.58" r="1.52"/><circle cx="291.50" cy="92.43" r="1.52"/></g>
<path d="M239.10 105.43L256.50 98.89L274.20 96.37L291.50 92.82" stroke="#000" stroke-width="1.1" fill="none" stroke-linejoin="round"/>
<g fill="#000"><rect x="237.65" y="103.98" width="2.90" height="2.90"/><rect x="255.05" y="97.44" width="2.90" height="2.90"/><rect x="272.75" y="94.92" width="2.90" height="2.90"/><rect x="290.05" y="91.37" width="2.90" height="2.90"/></g>
<line x1="230.37" y1="114.20" x2="230.37" y2="153.70" stroke="#cfcfcf" stroke-width="0.8"/>
<line x1="229.17" y1="153.70" x2="230.37" y2="153.70" stroke="#cfcfcf" stroke-width="0.6"/>
<text x="226.47" y="155.90" font-size="4.9" fill="#666" text-anchor="end">0</text>
<line x1="229.17" y1="145.80" x2="230.37" y2="145.80" stroke="#cfcfcf" stroke-width="0.6"/>
<text x="226.47" y="148.00" font-size="4.9" fill="#666" text-anchor="end">20</text>
<line x1="229.17" y1="137.90" x2="230.37" y2="137.90" stroke="#cfcfcf" stroke-width="0.6"/>
<text x="226.47" y="140.10" font-size="4.9" fill="#666" text-anchor="end">40</text>
<line x1="229.17" y1="130.00" x2="230.37" y2="130.00" stroke="#cfcfcf" stroke-width="0.6"/>
<text x="226.47" y="132.20" font-size="4.9" fill="#666" text-anchor="end">60</text>
<line x1="229.17" y1="122.10" x2="230.37" y2="122.10" stroke="#cfcfcf" stroke-width="0.6"/>
<text x="226.47" y="124.30" font-size="4.9" fill="#666" text-anchor="end">80</text>
<line x1="229.17" y1="114.20" x2="230.37" y2="114.20" stroke="#cfcfcf" stroke-width="0.6"/>
<text x="226.47" y="116.40" font-size="4.9" fill="#666" text-anchor="end">100</text>
<text transform="translate(213.30 132.70) rotate(-90)" font-size="4.7" font-weight="bold" fill="#4a4a4a" text-anchor="middle">% of CD86<tspan font-size="3.2" dy="-1.2">high</tspan><tspan dy="1.2"> DC</tspan></text>
<path d="M236.00 119.80V122.00M236.00 120.90H255.80M255.80 119.80V122.00" stroke="#6a6a6a" stroke-width="0.85" fill="none"/>
<text x="245.90" y="122.60" font-size="6.5" fill="#222" text-anchor="middle">*</text>
<path d="M255.80 115.30V117.50M255.80 116.40H291.70M291.70 115.30V117.50" stroke="#6a6a6a" stroke-width="0.85" fill="none"/>
<text x="273.75" y="118.10" font-size="6.5" fill="#222" text-anchor="middle">*</text>
<path d="M239.10 150.94L256.50 126.44L274.20 127.83L291.50 121.31" stroke="#000" stroke-width="1.1" fill="none" stroke-linejoin="round"/>
<path d="M239.10 149.20L256.50 141.06L274.20 140.07L291.50 136.95" stroke="#000" stroke-width="1.1" fill="none" stroke-linejoin="round"/>
<g fill="#000"><path d="M239.10 147.38L240.91 149.20L239.10 151.01L237.29 149.20Z"/><path d="M256.50 139.25L258.31 141.06L256.50 142.87L254.69 141.06Z"/><path d="M274.20 138.26L276.01 140.07L274.20 141.88L272.39 140.07Z"/><path d="M291.50 135.14L293.31 136.95L291.50 138.76L289.69 136.95Z"/></g>
<path d="M239.10 149.75L256.50 141.45L274.20 140.66L291.50 137.90" stroke="#000" stroke-width="1.1" fill="none" stroke-linejoin="round"/>
<g fill="#000"><circle cx="239.10" cy="149.75" r="1.52"/><circle cx="256.50" cy="141.45" r="1.52"/><circle cx="274.20" cy="140.66" r="1.52"/><circle cx="291.50" cy="137.90" r="1.52"/></g>
<path d="M239.10 150.14L256.50 141.85L274.20 141.06L291.50 138.69" stroke="#000" stroke-width="1.1" fill="none" stroke-linejoin="round"/>
<g fill="#000"><path d="M239.10 148.26L240.98 151.65L237.22 151.65Z"/><path d="M256.50 139.97L258.38 143.36L254.62 143.36Z"/><path d="M274.20 139.18L276.08 142.57L272.31 142.57Z"/><path d="M291.50 136.81L293.38 140.20L289.62 140.20Z"/></g>
<path d="M239.10 150.54L256.50 142.25L274.20 141.45L291.50 139.16" stroke="#000" stroke-width="1.1" fill="none" stroke-linejoin="round"/>
<g fill="#000"><circle cx="239.10" cy="150.54" r="1.52"/><circle cx="256.50" cy="142.25" r="1.52"/><circle cx="274.20" cy="141.45" r="1.52"/><circle cx="291.50" cy="139.16" r="1.52"/></g>
<path d="M239.10 150.94L256.50 142.76L274.20 141.85L291.50 139.88" stroke="#000" stroke-width="1.1" fill="none" stroke-linejoin="round"/>
<g fill="#000"><rect x="237.65" y="149.49" width="2.90" height="2.90"/><rect x="255.05" y="141.31" width="2.90" height="2.90"/><rect x="272.75" y="140.40" width="2.90" height="2.90"/><rect x="290.05" y="138.43" width="2.90" height="2.90"/></g>
<line x1="230.37" y1="160.50" x2="230.37" y2="198.80" stroke="#cfcfcf" stroke-width="0.8"/>
<line x1="230.37" y1="198.80" x2="300.23" y2="198.80" stroke="#cfcfcf" stroke-width="0.8"/>
<line x1="229.17" y1="198.80" x2="230.37" y2="198.80" stroke="#cfcfcf" stroke-width="0.6"/>
<text x="226.47" y="201.00" font-size="4.9" fill="#666" text-anchor="end">0</text>
<line x1="229.17" y1="191.14" x2="230.37" y2="191.14" stroke="#cfcfcf" stroke-width="0.6"/>
<text x="226.47" y="193.34" font-size="4.9" fill="#666" text-anchor="end">20</text>
<line x1="229.17" y1="183.48" x2="230.37" y2="183.48" stroke="#cfcfcf" stroke-width="0.6"/>
<text x="226.47" y="185.68" font-size="4.9" fill="#666" text-anchor="end">40</text>
<line x1="229.17" y1="175.82" x2="230.37" y2="175.82" stroke="#cfcfcf" stroke-width="0.6"/>
<text x="226.47" y="178.02" font-size="4.9" fill="#666" text-anchor="end">60</text>
<line x1="229.17" y1="168.16" x2="230.37" y2="168.16" stroke="#cfcfcf" stroke-width="0.6"/>
<text x="226.47" y="170.36" font-size="4.9" fill="#666" text-anchor="end">80</text>
<line x1="229.17" y1="160.50" x2="230.37" y2="160.50" stroke="#cfcfcf" stroke-width="0.6"/>
<text x="226.47" y="162.70" font-size="4.9" fill="#666" text-anchor="end">100</text>
<text transform="translate(213.30 178.70) rotate(-90)" font-size="4.7" font-weight="bold" fill="#4a4a4a" text-anchor="middle">% of IL-12<tspan font-size="3.2" dy="-1.2">high</tspan><tspan dy="1.2"> DC</tspan></text>
<path d="M236.00 162.20V164.40M236.00 163.30H255.80M255.80 162.20V164.40" stroke="#6a6a6a" stroke-width="0.85" fill="none"/>
<text x="245.90" y="165.00" font-size="6.5" fill="#222" text-anchor="middle">*</text>
<path d="M255.80 158.20V160.40M255.80 159.30H291.70M291.70 158.20V160.40" stroke="#6a6a6a" stroke-width="0.85" fill="none"/>
<text x="273.75" y="161.00" font-size="6.5" fill="#222" text-anchor="middle">*</text>
<path d="M239.10 195.35L256.50 168.16L274.20 168.54L291.50 168.16" stroke="#000" stroke-width="1.1" fill="none" stroke-linejoin="round"/>
<path d="M239.10 193.44L256.50 189.99L274.20 182.10L291.50 171.72" stroke="#000" stroke-width="1.1" fill="none" stroke-linejoin="round"/>
<g fill="#000"><path d="M239.10 191.55L240.98 194.95L237.22 194.95Z"/><path d="M256.50 188.11L258.38 191.50L254.62 191.50Z"/><path d="M274.20 180.22L276.08 183.61L272.31 183.61Z"/><path d="M291.50 169.84L293.38 173.23L289.62 173.23Z"/></g>
<path d="M239.10 194.20L256.50 183.86L274.20 185.01L291.50 171.99" stroke="#000" stroke-width="1.1" fill="none" stroke-linejoin="round"/>
<g fill="#000"><circle cx="239.10" cy="194.20" r="1.52"/><circle cx="256.50" cy="183.86" r="1.52"/><circle cx="274.20" cy="185.01" r="1.52"/><circle cx="291.50" cy="171.99" r="1.52"/></g>
<path d="M239.10 194.59L256.50 185.01L274.20 183.48L291.50 179.46" stroke="#000" stroke-width="1.1" fill="none" stroke-linejoin="round"/>
<g fill="#000"><path d="M239.10 192.77L240.91 194.59L239.10 196.40L237.29 194.59Z"/><path d="M256.50 183.20L258.31 185.01L256.50 186.82L254.69 185.01Z"/><path d="M274.20 181.67L276.01 183.48L274.20 185.29L272.39 183.48Z"/><path d="M291.50 177.65L293.31 179.46L291.50 181.27L289.69 179.46Z"/></g>
<path d="M239.10 194.97L256.50 186.16L274.20 184.25L291.50 181.56" stroke="#000" stroke-width="1.1" fill="none" stroke-linejoin="round"/>
<path d="M239.10 195.20L256.50 183.86L274.20 188.69L291.50 184.25" stroke="#000" stroke-width="1.1" fill="none" stroke-linejoin="round"/>
<g fill="#000"><rect x="237.65" y="193.75" width="2.90" height="2.90"/><rect x="255.05" y="182.41" width="2.90" height="2.90"/><rect x="272.75" y="187.24" width="2.90" height="2.90"/><rect x="290.05" y="182.80" width="2.90" height="2.90"/></g>
<text x="239.10" y="208.1" font-size="4.6" fill="#555" text-anchor="middle">1 : 0</text>
<text x="256.50" y="208.1" font-size="4.6" fill="#555" text-anchor="middle">1 : 4</text>
<text x="274.20" y="208.1" font-size="4.6" fill="#555" text-anchor="middle">1 : 4</text>
<text x="291.50" y="208.1" font-size="4.6" fill="#555" text-anchor="middle">1 : 4</text>
<text x="231.10" y="215.80" font-size="4.4" font-weight="bold" fill="#111" text-anchor="end">Ctrl Ab</text>
<text x="239.10" y="216.00" font-size="5.5" fill="#555" text-anchor="middle">-</text>
<text x="256.50" y="216.00" font-size="5.5" fill="#555" text-anchor="middle">-</text>
<text x="274.20" y="216.30" font-size="5.0" fill="#333" text-anchor="middle">+</text>
<text x="291.50" y="216.00" font-size="5.5" fill="#555" text-anchor="middle">-</text>
<text x="231.10" y="223.90" font-size="4.4" font-weight="bold" fill="#111" text-anchor="end">α-CD54</text>
<text x="239.10" y="224.10" font-size="5.5" fill="#555" text-anchor="middle">-</text>
<text x="256.50" y="224.10" font-size="5.5" fill="#555" text-anchor="middle">-</text>
<text x="274.20" y="224.10" font-size="5.5" fill="#555" text-anchor="middle">-</text>
<text x="291.50" y="224.40" font-size="5.0" fill="#333" text-anchor="middle">+</text>
<text x="303.70" y="11.7" font-size="11.6" font-weight="bold" fill="#000" stroke="#000" stroke-width="0.3">D</text>
<line x1="323.87" y1="22.00" x2="323.87" y2="61.50" stroke="#cfcfcf" stroke-width="0.8"/>
<line x1="322.67" y1="61.50" x2="323.87" y2="61.50" stroke="#cfcfcf" stroke-width="0.6"/>
<text x="319.97" y="63.70" font-size="4.9" fill="#666" text-anchor="end">0</text>
<line x1="322.67" y1="51.62" x2="323.87" y2="51.62" stroke="#cfcfcf" stroke-width="0.6"/>
<text x="319.97" y="53.83" font-size="4.9" fill="#666" text-anchor="end">5</text>
<line x1="322.67" y1="41.75" x2="323.87" y2="41.75" stroke="#cfcfcf" stroke-width="0.6"/>
<text x="319.97" y="43.95" font-size="4.9" fill="#666" text-anchor="end">10</text>
<line x1="322.67" y1="31.88" x2="323.87" y2="31.88" stroke="#cfcfcf" stroke-width="0.6"/>
<text x="319.97" y="34.08" font-size="4.9" fill="#666" text-anchor="end">15</text>
<line x1="322.67" y1="22.00" x2="323.87" y2="22.00" stroke="#cfcfcf" stroke-width="0.6"/>
<text x="319.97" y="24.20" font-size="4.9" fill="#666" text-anchor="end">20</text>
<text transform="translate(309.80 42.00) rotate(-90)" font-size="4.7" font-weight="bold" fill="#4a4a4a" text-anchor="middle">MFI of HLA-DR</text>
<path d="M333.30 25.60V27.80M333.30 26.70H352.40M352.40 25.60V27.80" stroke="#6a6a6a" stroke-width="0.85" fill="none"/>
<text x="342.85" y="28.40" font-size="6.5" fill="#222" text-anchor="middle">*</text>
<path d="M352.40 20.90V23.10M352.40 22.00H387.70M387.70 20.90V23.10" stroke="#6a6a6a" stroke-width="0.85" fill="none"/>
<text x="370.05" y="21.70" font-size="6.3" fill="#5a5a5a" text-anchor="middle">ns</text>
<path d="M332.90 31.68L351.10 44.12L368.90 45.30L387.10 43.53" stroke="#000" stroke-width="1.1" fill="none" stroke-linejoin="round"/>
<g fill="#000"><circle cx="332.90" cy="31.68" r="1.52"/><circle cx="351.10" cy="44.12" r="1.52"/><circle cx="368.90" cy="45.30" r="1.52"/><circle cx="387.10" cy="43.53" r="1.52"/></g>
<path d="M332.90 36.22L351.10 44.71L368.90 45.70L387.10 44.12" stroke="#000" stroke-width="1.1" fill="none" stroke-linejoin="round"/>
<g fill="#000"><rect x="331.45" y="34.77" width="2.90" height="2.90"/><rect x="349.65" y="43.26" width="2.90" height="2.90"/><rect x="367.45" y="44.25" width="2.90" height="2.90"/><rect x="385.65" y="42.67" width="2.90" height="2.90"/></g>
<path d="M332.90 37.80L351.10 45.30L368.90 46.09L387.10 50.44" stroke="#000" stroke-width="1.1" fill="none" stroke-linejoin="round"/>
<g fill="#000"><path d="M332.90 35.99L334.71 37.80L332.90 39.61L331.09 37.80Z"/><path d="M351.10 43.49L352.91 45.30L351.10 47.12L349.29 45.30Z"/><path d="M368.90 44.28L370.71 46.09L368.90 47.91L367.09 46.09Z"/><path d="M387.10 48.63L388.91 50.44L387.10 52.25L385.29 50.44Z"/></g>
<path d="M332.90 38.98L351.10 50.64L368.90 50.44L387.10 44.91" stroke="#000" stroke-width="1.1" fill="none" stroke-linejoin="round"/>
<g fill="#000"><path d="M332.90 37.10L334.78 40.49L331.01 40.49Z"/><path d="M351.10 48.75L352.99 52.15L349.22 52.15Z"/><path d="M368.90 48.55L370.78 51.95L367.01 51.95Z"/><path d="M387.10 43.02L388.99 46.42L385.22 46.42Z"/></g>
<path d="M332.90 38.98L351.10 51.03L368.90 50.84L387.10 51.03" stroke="#000" stroke-width="1.1" fill="none" stroke-linejoin="round"/>
<path d="M332.90 39.77L351.10 51.23L368.90 50.84L387.10 51.62" stroke="#000" stroke-width="1.1" fill="none" stroke-linejoin="round"/>
<g fill="#000"><circle cx="332.90" cy="39.77" r="1.52"/><circle cx="351.10" cy="51.23" r="1.52"/><circle cx="368.90" cy="50.84" r="1.52"/><circle cx="387.10" cy="51.62" r="1.52"/></g>
<line x1="326.90" y1="68.00" x2="326.90" y2="107.40" stroke="#cfcfcf" stroke-width="0.8"/>
<line x1="325.70" y1="107.40" x2="326.90" y2="107.40" stroke="#cfcfcf" stroke-width="0.6"/>
<text x="323.00" y="109.60" font-size="4.9" fill="#666" text-anchor="end">0</text>
<line x1="325.70" y1="99.52" x2="326.90" y2="99.52" stroke="#cfcfcf" stroke-width="0.6"/>
<text x="323.00" y="101.72" font-size="4.9" fill="#666" text-anchor="end">20</text>
<line x1="325.70" y1="91.64" x2="326.90" y2="91.64" stroke="#cfcfcf" stroke-width="0.6"/>
<text x="323.00" y="93.84" font-size="4.9" fill="#666" text-anchor="end">40</text>
<line x1="325.70" y1="83.76" x2="326.90" y2="83.76" stroke="#cfcfcf" stroke-width="0.6"/>
<text x="323.00" y="85.96" font-size="4.9" fill="#666" text-anchor="end">60</text>
<line x1="325.70" y1="75.88" x2="326.90" y2="75.88" stroke="#cfcfcf" stroke-width="0.6"/>
<text x="323.00" y="78.08" font-size="4.9" fill="#666" text-anchor="end">80</text>
<line x1="325.70" y1="68.00" x2="326.90" y2="68.00" stroke="#cfcfcf" stroke-width="0.6"/>
<text x="323.00" y="70.20" font-size="4.9" fill="#666" text-anchor="end">100</text>
<text transform="translate(309.80 86.40) rotate(-90)" font-size="4.7" font-weight="bold" fill="#4a4a4a" text-anchor="middle">% of CD80<tspan font-size="3.2" dy="-1.2">high</tspan><tspan dy="1.2"> DC</tspan></text>
<path d="M333.30 79.30V81.50M333.30 80.40H352.40M352.40 79.30V81.50" stroke="#6a6a6a" stroke-width="0.85" fill="none"/>
<text x="342.85" y="82.10" font-size="6.5" fill="#222" text-anchor="middle">*</text>
<path d="M352.40 75.30V77.50M352.40 76.40H387.70M387.70 75.30V77.50" stroke="#6a6a6a" stroke-width="0.85" fill="none"/>
<text x="370.05" y="76.10" font-size="6.3" fill="#5a5a5a" text-anchor="middle">ns</text>
<path d="M335.60 105.82L352.90 86.12L370.20 87.31L387.80 86.12" stroke="#000" stroke-width="1.1" fill="none" stroke-linejoin="round"/>
<g fill="#000"><rect x="334.15" y="104.37" width="2.90" height="2.90"/><rect x="351.45" y="84.67" width="2.90" height="2.90"/><rect x="368.75" y="85.86" width="2.90" height="2.90"/><rect x="386.35" y="84.67" width="2.90" height="2.90"/></g>
<path d="M335.60 105.82L352.90 89.67L370.20 90.85L387.80 90.06" stroke="#000" stroke-width="1.1" fill="none" stroke-linejoin="round"/>
<g fill="#000"><path d="M335.60 104.01L337.41 105.82L335.60 107.64L333.79 105.82Z"/><path d="M352.90 87.86L354.71 89.67L352.90 91.48L351.09 89.67Z"/><path d="M370.20 89.04L372.01 90.85L370.20 92.66L368.39 90.85Z"/><path d="M387.80 88.25L389.61 90.06L387.80 91.88L385.99 90.06Z"/></g>
<path d="M335.60 105.82L352.90 91.25L370.20 91.64L387.80 91.64" stroke="#000" stroke-width="1.1" fill="none" stroke-linejoin="round"/>
<g fill="#000"><path d="M335.60 103.94L337.49 107.33L333.72 107.33Z"/><path d="M352.90 89.36L354.78 92.75L351.01 92.75Z"/><path d="M370.20 89.75L372.08 93.15L368.31 93.15Z"/><path d="M387.80 89.75L389.69 93.15L385.92 93.15Z"/></g>
<path d="M335.60 105.82L352.90 92.82L370.20 92.82L387.80 93.22" stroke="#000" stroke-width="1.1" fill="none" stroke-linejoin="round"/>
<g fill="#000"><circle cx="335.60" cy="105.82" r="1.52"/><circle cx="352.90" cy="92.82" r="1.52"/><circle cx="370.20" cy="92.82" r="1.52"/><circle cx="387.80" cy="93.22" r="1.52"/></g>
<path d="M335.60 105.82L352.90 94.40L370.20 94.00L387.80 94.40" stroke="#000" stroke-width="1.1" fill="none" stroke-linejoin="round"/>
<path d="M335.60 105.82L352.90 95.82L370.20 95.19L387.80 94.79" stroke="#000" stroke-width="1.1" fill="none" stroke-linejoin="round"/>
<g fill="#000"><circle cx="335.60" cy="105.82" r="1.52"/><circle cx="352.90" cy="95.82" r="1.52"/><circle cx="370.20" cy="95.19" r="1.52"/><circle cx="387.80" cy="94.79" r="1.52"/></g>
<line x1="326.90" y1="114.20" x2="326.90" y2="153.70" stroke="#cfcfcf" stroke-width="0.8"/>
<line x1="325.70" y1="153.70" x2="326.90" y2="153.70" stroke="#cfcfcf" stroke-width="0.6"/>
<text x="323.00" y="155.90" font-size="4.9" fill="#666" text-anchor="end">0</text>
<line x1="325.70" y1="145.80" x2="326.90" y2="145.80" stroke="#cfcfcf" stroke-width="0.6"/>
<text x="323.00" y="148.00" font-size="4.9" fill="#666" text-anchor="end">20</text>
<line x1="325.70" y1="137.90" x2="326.90" y2="137.90" stroke="#cfcfcf" stroke-width="0.6"/>
<text x="323.00" y="140.10" font-size="4.9" fill="#666" text-anchor="end">40</text>
<line x1="325.70" y1="130.00" x2="326.90" y2="130.00" stroke="#cfcfcf" stroke-width="0.6"/>
<text x="323.00" y="132.20" font-size="4.9" fill="#666" text-anchor="end">60</text>
<line x1="325.70" y1="122.10" x2="326.90" y2="122.10" stroke="#cfcfcf" stroke-width="0.6"/>
<text x="323.00" y="124.30" font-size="4.9" fill="#666" text-anchor="end">80</text>
<line x1="325.70" y1="114.20" x2="326.90" y2="114.20" stroke="#cfcfcf" stroke-width="0.6"/>
<text x="323.00" y="116.40" font-size="4.9" fill="#666" text-anchor="end">100</text>
<text transform="translate(309.80 132.70) rotate(-90)" font-size="4.7" font-weight="bold" fill="#4a4a4a" text-anchor="middle">% of CD86<tspan font-size="3.2" dy="-1.2">high</tspan><tspan dy="1.2"> DC</tspan></text>
<path d="M333.30 119.80V122.00M333.30 120.90H352.40M352.40 119.80V122.00" stroke="#6a6a6a" stroke-width="0.85" fill="none"/>
<text x="342.85" y="122.60" font-size="6.5" fill="#222" text-anchor="middle">*</text>
<path d="M352.40 115.30V117.50M352.40 116.40H387.70M387.70 115.30V117.50" stroke="#6a6a6a" stroke-width="0.85" fill="none"/>
<text x="370.05" y="116.10" font-size="6.3" fill="#5a5a5a" text-anchor="middle">ns</text>
<path d="M335.60 149.20L352.90 126.44L370.20 128.22L387.80 127.31" stroke="#000" stroke-width="1.1" fill="none" stroke-linejoin="round"/>
<g fill="#000"><rect x="334.15" y="147.75" width="2.90" height="2.90"/><rect x="351.45" y="124.99" width="2.90" height="2.90"/><rect x="368.75" y="126.77" width="2.90" height="2.90"/><rect x="386.35" y="125.86" width="2.90" height="2.90"/></g>
<path d="M335.60 150.14L352.90 136.95L370.20 138.69L387.80 138.29" stroke="#000" stroke-width="1.1" fill="none" stroke-linejoin="round"/>
<g fill="#000"><circle cx="335.60" cy="150.14" r="1.52"/><circle cx="352.90" cy="136.95" r="1.52"/><circle cx="370.20" cy="138.69" r="1.52"/><circle cx="387.80" cy="138.29" r="1.52"/></g>
<path d="M335.60 150.54L352.90 139.88L370.20 137.90L387.80 137.90" stroke="#000" stroke-width="1.1" fill="none" stroke-linejoin="round"/>
<g fill="#000"><path d="M335.60 148.73L337.41 150.54L335.60 152.35L333.79 150.54Z"/><path d="M352.90 138.06L354.71 139.88L352.90 141.69L351.09 139.88Z"/><path d="M370.20 136.09L372.01 137.90L370.20 139.71L368.39 137.90Z"/><path d="M387.80 136.09L389.61 137.90L387.80 139.71L385.99 137.90Z"/></g>
<path d="M335.60 150.94L352.90 141.06L370.20 139.88L387.80 141.85" stroke="#000" stroke-width="1.1" fill="none" stroke-linejoin="round"/>
<g fill="#000"><path d="M335.60 149.05L337.49 152.44L333.72 152.44Z"/><path d="M352.90 139.18L354.78 142.57L351.01 142.57Z"/><path d="M370.20 137.99L372.08 141.38L368.31 141.38Z"/><path d="M387.80 139.97L389.69 143.36L385.92 143.36Z"/></g>
<path d="M335.60 151.33L352.90 141.45L370.20 140.66L387.80 140.66" stroke="#000" stroke-width="1.1" fill="none" stroke-linejoin="round"/>
<path d="M335.60 151.61L352.90 141.85L370.20 141.06L387.80 139.88" stroke="#000" stroke-width="1.1" fill="none" stroke-linejoin="round"/>
<g fill="#000"><circle cx="335.60" cy="151.61" r="1.52"/><circle cx="352.90" cy="141.85" r="1.52"/><circle cx="370.20" cy="141.06" r="1.52"/><circle cx="387.80" cy="139.88" r="1.52"/></g>
<line x1="326.90" y1="160.50" x2="326.90" y2="198.80" stroke="#cfcfcf" stroke-width="0.8"/>
<line x1="326.90" y1="198.80" x2="396.50" y2="198.80" stroke="#cfcfcf" stroke-width="0.8"/>
<line x1="325.70" y1="198.80" x2="326.90" y2="198.80" stroke="#cfcfcf" stroke-width="0.6"/>
<text x="323.00" y="201.00" font-size="4.9" fill="#666" text-anchor="end">0</text>
<line x1="325.70" y1="191.14" x2="326.90" y2="191.14" stroke="#cfcfcf" stroke-width="0.6"/>
<text x="323.00" y="193.34" font-size="4.9" fill="#666" text-anchor="end">20</text>
<line x1="325.70" y1="183.48" x2="326.90" y2="183.48" stroke="#cfcfcf" stroke-width="0.6"/>
<text x="323.00" y="185.68" font-size="4.9" fill="#666" text-anchor="end">40</text>
<line x1="325.70" y1="175.82" x2="326.90" y2="175.82" stroke="#cfcfcf" stroke-width="0.6"/>
<text x="323.00" y="178.02" font-size="4.9" fill="#666" text-anchor="end">60</text>
<line x1="325.70" y1="168.16" x2="326.90" y2="168.16" stroke="#cfcfcf" stroke-width="0.6"/>
<text x="323.00" y="170.36" font-size="4.9" fill="#666" text-anchor="end">80</text>
<line x1="325.70" y1="160.50" x2="326.90" y2="160.50" stroke="#cfcfcf" stroke-width="0.6"/>
<text x="323.00" y="162.70" font-size="4.9" fill="#666" text-anchor="end">100</text>
<text transform="translate(309.80 178.70) rotate(-90)" font-size="4.7" font-weight="bold" fill="#4a4a4a" text-anchor="middle">% of IL-12<tspan font-size="3.2" dy="-1.2">high</tspan><tspan dy="1.2"> DC</tspan></text>
<path d="M333.30 167.60V169.80M333.30 168.70H352.40M352.40 167.60V169.80" stroke="#6a6a6a" stroke-width="0.85" fill="none"/>
<text x="342.85" y="170.40" font-size="6.5" fill="#222" text-anchor="middle">*</text>
<path d="M352.40 163.10V165.30M352.40 164.20H387.70M387.70 163.10V165.30" stroke="#6a6a6a" stroke-width="0.85" fill="none"/>
<text x="370.05" y="165.90" font-size="6.5" fill="#222" text-anchor="middle">*</text>
<path d="M335.60 197.00L352.90 179.65L370.20 176.97L387.80 170.92" stroke="#000" stroke-width="1.1" fill="none" stroke-linejoin="round"/>
<g fill="#000"><rect x="334.15" y="195.55" width="2.90" height="2.90"/><rect x="351.45" y="178.20" width="2.90" height="2.90"/><rect x="368.75" y="175.52" width="2.90" height="2.90"/><rect x="386.35" y="169.47" width="2.90" height="2.90"/></g>
<path d="M335.60 197.00L352.90 180.42L370.20 177.74L387.80 176.05" stroke="#000" stroke-width="1.1" fill="none" stroke-linejoin="round"/>
<g fill="#000"><path d="M335.60 195.19L337.41 197.00L335.60 198.81L333.79 197.00Z"/><path d="M352.90 178.60L354.71 180.42L352.90 182.23L351.09 180.42Z"/><path d="M370.20 175.92L372.01 177.74L370.20 179.55L368.39 177.74Z"/><path d="M387.80 174.24L389.61 176.05L387.80 177.86L385.99 176.05Z"/></g>
<path d="M335.60 197.00L352.90 185.01L370.20 185.78L387.80 176.59" stroke="#000" stroke-width="1.1" fill="none" stroke-linejoin="round"/>
<g fill="#000"><circle cx="335.60" cy="197.00" r="1.52"/><circle cx="352.90" cy="185.01" r="1.52"/><circle cx="370.20" cy="185.78" r="1.52"/><circle cx="387.80" cy="176.59" r="1.52"/></g>
<path d="M335.60 197.00L352.90 185.59L370.20 186.16L387.80 177.85" stroke="#000" stroke-width="1.1" fill="none" stroke-linejoin="round"/>
<path d="M335.60 197.00L352.90 187.88L370.20 186.16L387.80 179.65" stroke="#000" stroke-width="1.1" fill="none" stroke-linejoin="round"/>
<g fill="#000"><path d="M335.60 195.19L337.41 197.00L335.60 198.81L333.79 197.00Z"/><path d="M352.90 186.07L354.71 187.88L352.90 189.70L351.09 187.88Z"/><path d="M370.20 184.35L372.01 186.16L370.20 187.97L368.39 186.16Z"/><path d="M387.80 177.84L389.61 179.65L387.80 181.46L385.99 179.65Z"/></g>
<path d="M335.60 197.00L352.90 190.57L370.20 187.31L387.80 184.25" stroke="#000" stroke-width="1.1" fill="none" stroke-linejoin="round"/>
<g fill="#000"><circle cx="335.60" cy="197.00" r="1.52"/><circle cx="352.90" cy="190.57" r="1.52"/><circle cx="370.20" cy="187.31" r="1.52"/><circle cx="387.80" cy="184.25" r="1.52"/></g>
<text x="335.60" y="208.1" font-size="4.6" fill="#555" text-anchor="middle">1 : 0</text>
<text x="352.90" y="208.1" font-size="4.6" fill="#555" text-anchor="middle">1 : 4</text>
<text x="370.20" y="208.1" font-size="4.6" fill="#555" text-anchor="middle">1 : 4</text>
<text x="387.80" y="208.1" font-size="4.6" fill="#555" text-anchor="middle">1 : 4</text>
<text x="327.60" y="215.80" font-size="4.4" font-weight="bold" fill="#111" text-anchor="end">Ctrl Ab</text>
<text x="335.60" y="216.00" font-size="5.5" fill="#555" text-anchor="middle">-</text>
<text x="352.90" y="216.00" font-size="5.5" fill="#555" text-anchor="middle">-</text>
<text x="370.20" y="216.30" font-size="5.0" fill="#333" text-anchor="middle">+</text>
<text x="387.80" y="216.00" font-size="5.5" fill="#555" text-anchor="middle">-</text>
<text x="327.60" y="223.90" font-size="4.4" font-weight="bold" fill="#111" text-anchor="end">α-CD18</text>
<text x="335.60" y="224.10" font-size="5.5" fill="#555" text-anchor="middle">-</text>
<text x="352.90" y="224.10" font-size="5.5" fill="#555" text-anchor="middle">-</text>
<text x="370.20" y="224.10" font-size="5.5" fill="#555" text-anchor="middle">-</text>
<text x="387.80" y="224.40" font-size="5.0" fill="#333" text-anchor="middle">+</text>
<text x="399.30" y="11.7" font-size="11.6" font-weight="bold" fill="#000" stroke="#000" stroke-width="0.3">E</text>
<line x1="420.22" y1="22.00" x2="420.22" y2="61.50" stroke="#cfcfcf" stroke-width="0.8"/>
<line x1="419.02" y1="61.50" x2="420.22" y2="61.50" stroke="#cfcfcf" stroke-width="0.6"/>
<text x="416.32" y="63.70" font-size="4.9" fill="#666" text-anchor="end">0</text>
<line x1="419.02" y1="51.62" x2="420.22" y2="51.62" stroke="#cfcfcf" stroke-width="0.6"/>
<text x="416.32" y="53.83" font-size="4.9" fill="#666" text-anchor="end">5</text>
<line x1="419.02" y1="41.75" x2="420.22" y2="41.75" stroke="#cfcfcf" stroke-width="0.6"/>
<text x="416.32" y="43.95" font-size="4.9" fill="#666" text-anchor="end">10</text>
<line x1="419.02" y1="31.88" x2="420.22" y2="31.88" stroke="#cfcfcf" stroke-width="0.6"/>
<text x="416.32" y="34.08" font-size="4.9" fill="#666" text-anchor="end">15</text>
<line x1="419.02" y1="22.00" x2="420.22" y2="22.00" stroke="#cfcfcf" stroke-width="0.6"/>
<text x="416.32" y="24.20" font-size="4.9" fill="#666" text-anchor="end">20</text>
<text transform="translate(406.30 42.00) rotate(-90)" font-size="4.7" font-weight="bold" fill="#4a4a4a" text-anchor="middle">MFI of HLA-DR</text>
<path d="M429.30 25.60V27.80M429.30 26.70H448.40M448.40 25.60V27.80" stroke="#6a6a6a" stroke-width="0.85" fill="none"/>
<text x="438.85" y="28.40" font-size="6.5" fill="#222" text-anchor="middle">*</text>
<path d="M448.40 20.90V23.10M448.40 22.00H484.30M484.30 20.90V23.10" stroke="#6a6a6a" stroke-width="0.85" fill="none"/>
<text x="466.35" y="21.70" font-size="6.3" fill="#5a5a5a" text-anchor="middle">ns</text>
<path d="M429.30 31.68L447.50 44.52L465.60 45.30L483.80 42.54" stroke="#000" stroke-width="1.1" fill="none" stroke-linejoin="round"/>
<g fill="#000"><circle cx="429.30" cy="31.68" r="1.52"/><circle cx="447.50" cy="44.52" r="1.52"/><circle cx="465.60" cy="45.30" r="1.52"/><circle cx="483.80" cy="42.54" r="1.52"/></g>
<path d="M429.30 35.83L447.50 45.70L465.60 45.90L483.80 44.12" stroke="#000" stroke-width="1.1" fill="none" stroke-linejoin="round"/>
<g fill="#000"><path d="M429.30 34.01L431.11 35.83L429.30 37.64L427.49 35.83Z"/><path d="M447.50 43.89L449.31 45.70L447.50 47.51L445.69 45.70Z"/><path d="M465.60 44.09L467.41 45.90L465.60 47.71L463.79 45.90Z"/><path d="M483.80 42.31L485.61 44.12L483.80 45.93L481.99 44.12Z"/></g>
<path d="M429.30 37.80L447.50 46.09L465.60 46.69L483.80 46.29" stroke="#000" stroke-width="1.1" fill="none" stroke-linejoin="round"/>
<g fill="#000"><rect x="427.85" y="36.35" width="2.90" height="2.90"/><rect x="446.05" y="44.64" width="2.90" height="2.90"/><rect x="464.15" y="45.24" width="2.90" height="2.90"/><rect x="482.35" y="44.84" width="2.90" height="2.90"/></g>
<path d="M429.30 38.98L447.50 46.69L465.60 47.67L483.80 47.67" stroke="#000" stroke-width="1.1" fill="none" stroke-linejoin="round"/>
<path d="M429.30 39.77L447.50 50.64L465.60 51.03L483.80 49.65" stroke="#000" stroke-width="1.1" fill="none" stroke-linejoin="round"/>
<g fill="#000"><circle cx="429.30" cy="39.77" r="1.52"/><circle cx="447.50" cy="50.64" r="1.52"/><circle cx="465.60" cy="51.03" r="1.52"/><circle cx="483.80" cy="49.65" r="1.52"/></g>
<path d="M429.30 39.38L447.50 51.23L465.60 51.23L483.80 52.02" stroke="#000" stroke-width="1.1" fill="none" stroke-linejoin="round"/>
<g fill="#000"><path d="M429.30 37.50L431.19 40.89L427.42 40.89Z"/><path d="M447.50 49.35L449.38 52.74L445.62 52.74Z"/><path d="M465.60 49.35L467.49 52.74L463.72 52.74Z"/><path d="M483.80 50.13L485.69 53.53L481.92 53.53Z"/></g>
<line x1="422.80" y1="68.00" x2="422.80" y2="107.40" stroke="#cfcfcf" stroke-width="0.8"/>
<line x1="421.60" y1="107.40" x2="422.80" y2="107.40" stroke="#cfcfcf" stroke-width="0.6"/>
<text x="418.90" y="109.60" font-size="4.9" fill="#666" text-anchor="end">0</text>
<line x1="421.60" y1="99.52" x2="422.80" y2="99.52" stroke="#cfcfcf" stroke-width="0.6"/>
<text x="418.90" y="101.72" font-size="4.9" fill="#666" text-anchor="end">20</text>
<line x1="421.60" y1="91.64" x2="422.80" y2="91.64" stroke="#cfcfcf" stroke-width="0.6"/>
<text x="418.90" y="93.84" font-size="4.9" fill="#666" text-anchor="end">40</text>
<line x1="421.60" y1="83.76" x2="422.80" y2="83.76" stroke="#cfcfcf" stroke-width="0.6"/>
<text x="418.90" y="85.96" font-size="4.9" fill="#666" text-anchor="end">60</text>
<line x1="421.60" y1="75.88" x2="422.80" y2="75.88" stroke="#cfcfcf" stroke-width="0.6"/>
<text x="418.90" y="78.08" font-size="4.9" fill="#666" text-anchor="end">80</text>
<line x1="421.60" y1="68.00" x2="422.80" y2="68.00" stroke="#cfcfcf" stroke-width="0.6"/>
<text x="418.90" y="70.20" font-size="4.9" fill="#666" text-anchor="end">100</text>
<text transform="translate(406.30 86.40) rotate(-90)" font-size="4.7" font-weight="bold" fill="#4a4a4a" text-anchor="middle">% of CD80<tspan font-size="3.2" dy="-1.2">high</tspan><tspan dy="1.2"> DC</tspan></text>
<path d="M429.30 79.60V81.80M429.30 80.70H448.40M448.40 79.60V81.80" stroke="#6a6a6a" stroke-width="0.85" fill="none"/>
<text x="438.85" y="82.40" font-size="6.5" fill="#222" text-anchor="middle">*</text>
<path d="M448.40 75.60V77.80M448.40 76.70H484.30M484.30 75.60V77.80" stroke="#6a6a6a" stroke-width="0.85" fill="none"/>
<text x="466.35" y="78.40" font-size="6.5" fill="#222" text-anchor="middle">*</text>
<path d="M431.60 103.07L449.30 86.12L466.70 86.72L484.40 88.49" stroke="#000" stroke-width="1.1" fill="none" stroke-linejoin="round"/>
<path d="M431.60 104.25L449.30 87.70L466.70 88.49L484.40 89.67" stroke="#000" stroke-width="1.1" fill="none" stroke-linejoin="round"/>
<g fill="#000"><circle cx="431.60" cy="104.25" r="1.52"/><circle cx="449.30" cy="87.70" r="1.52"/><circle cx="466.70" cy="88.49" r="1.52"/><circle cx="484.40" cy="89.67" r="1.52"/></g>
<path d="M431.60 104.64L449.30 89.28L466.70 89.67L484.40 90.85" stroke="#000" stroke-width="1.1" fill="none" stroke-linejoin="round"/>
<g fill="#000"><path d="M431.60 102.83L433.41 104.64L431.60 106.45L429.79 104.64Z"/><path d="M449.30 87.46L451.11 89.28L449.30 91.09L447.49 89.28Z"/><path d="M466.70 87.86L468.51 89.67L466.70 91.48L464.89 89.67Z"/><path d="M484.40 89.04L486.21 90.85L484.40 92.66L482.59 90.85Z"/></g>
<path d="M431.60 105.04L449.30 90.46L466.70 90.85L484.40 95.58" stroke="#000" stroke-width="1.1" fill="none" stroke-linejoin="round"/>
<g fill="#000"><rect x="430.15" y="103.59" width="2.90" height="2.90"/><rect x="447.85" y="89.01" width="2.90" height="2.90"/><rect x="465.25" y="89.40" width="2.90" height="2.90"/><rect x="482.95" y="94.13" width="2.90" height="2.90"/></g>
<path d="M431.60 105.43L449.30 91.64L466.70 94.00L484.40 96.37" stroke="#000" stroke-width="1.1" fill="none" stroke-linejoin="round"/>
<g fill="#000"><circle cx="431.60" cy="105.43" r="0.87"/><circle cx="449.30" cy="91.64" r="0.87"/><circle cx="466.70" cy="94.00" r="0.87"/><circle cx="484.40" cy="96.37" r="0.87"/></g>
<path d="M431.60 105.82L449.30 93.22L466.70 97.16L484.40 97.55" stroke="#000" stroke-width="1.1" fill="none" stroke-linejoin="round"/>
<g fill="#000"><circle cx="431.60" cy="105.82" r="1.52"/><circle cx="449.30" cy="93.22" r="1.52"/><circle cx="466.70" cy="97.16" r="1.52"/><circle cx="484.40" cy="97.55" r="1.52"/></g>
<line x1="422.80" y1="114.20" x2="422.80" y2="153.70" stroke="#cfcfcf" stroke-width="0.8"/>
<line x1="421.60" y1="153.70" x2="422.80" y2="153.70" stroke="#cfcfcf" stroke-width="0.6"/>
<text x="418.90" y="155.90" font-size="4.9" fill="#666" text-anchor="end">0</text>
<line x1="421.60" y1="145.80" x2="422.80" y2="145.80" stroke="#cfcfcf" stroke-width="0.6"/>
<text x="418.90" y="148.00" font-size="4.9" fill="#666" text-anchor="end">20</text>
<line x1="421.60" y1="137.90" x2="422.80" y2="137.90" stroke="#cfcfcf" stroke-width="0.6"/>
<text x="418.90" y="140.10" font-size="4.9" fill="#666" text-anchor="end">40</text>
<line x1="421.60" y1="130.00" x2="422.80" y2="130.00" stroke="#cfcfcf" stroke-width="0.6"/>
<text x="418.90" y="132.20" font-size="4.9" fill="#666" text-anchor="end">60</text>
<line x1="421.60" y1="122.10" x2="422.80" y2="122.10" stroke="#cfcfcf" stroke-width="0.6"/>
<text x="418.90" y="124.30" font-size="4.9" fill="#666" text-anchor="end">80</text>
<line x1="421.60" y1="114.20" x2="422.80" y2="114.20" stroke="#cfcfcf" stroke-width="0.6"/>
<text x="418.90" y="116.40" font-size="4.9" fill="#666" text-anchor="end">100</text>
<text transform="translate(406.30 132.70) rotate(-90)" font-size="4.7" font-weight="bold" fill="#4a4a4a" text-anchor="middle">% of CD86<tspan font-size="3.2" dy="-1.2">high</tspan><tspan dy="1.2"> DC</tspan></text>
<path d="M429.30 120.20V122.40M429.30 121.30H448.40M448.40 120.20V122.40" stroke="#6a6a6a" stroke-width="0.85" fill="none"/>
<text x="438.85" y="123.00" font-size="6.5" fill="#222" text-anchor="middle">*</text>
<path d="M448.40 115.80V118.00M448.40 116.90H484.30M484.30 115.80V118.00" stroke="#6a6a6a" stroke-width="0.85" fill="none"/>
<text x="466.35" y="118.60" font-size="6.5" fill="#222" text-anchor="middle">*</text>
<path d="M431.60 148.56L449.30 126.44L466.70 128.22L484.40 130.95" stroke="#000" stroke-width="1.1" fill="none" stroke-linejoin="round"/>
<path d="M431.60 149.35L449.30 136.44L466.70 139.08L484.40 141.45" stroke="#000" stroke-width="1.1" fill="none" stroke-linejoin="round"/>
<g fill="#000"><rect x="430.15" y="147.91" width="2.90" height="2.90"/><rect x="447.85" y="134.99" width="2.90" height="2.90"/><rect x="465.25" y="137.63" width="2.90" height="2.90"/><rect x="482.95" y="140.00" width="2.90" height="2.90"/></g>
<path d="M431.60 149.75L449.30 140.07L466.70 137.66L484.40 142.76" stroke="#000" stroke-width="1.1" fill="none" stroke-linejoin="round"/>
<g fill="#000"><path d="M431.60 147.87L433.49 151.26L429.72 151.26Z"/><path d="M449.30 138.19L451.19 141.58L447.42 141.58Z"/><path d="M466.70 135.78L468.58 139.17L464.81 139.17Z"/><path d="M484.40 140.87L486.28 144.27L482.51 144.27Z"/></g>
<path d="M431.60 150.14L449.30 140.66L466.70 139.08L484.40 143.82" stroke="#000" stroke-width="1.1" fill="none" stroke-linejoin="round"/>
<g fill="#000"><path d="M431.60 148.33L433.41 150.14L431.60 151.96L429.79 150.14Z"/><path d="M449.30 138.85L451.11 140.66L449.30 142.48L447.49 140.66Z"/><path d="M466.70 137.27L468.51 139.08L466.70 140.90L464.89 139.08Z"/><path d="M484.40 142.01L486.21 143.82L484.40 145.64L482.59 143.82Z"/></g>
<path d="M431.60 150.54L449.30 141.45L466.70 139.48L484.40 144.61" stroke="#000" stroke-width="1.1" fill="none" stroke-linejoin="round"/>
<g fill="#000"><circle cx="431.60" cy="150.54" r="1.52"/><circle cx="449.30" cy="141.45" r="1.52"/><circle cx="466.70" cy="139.48" r="1.52"/><circle cx="484.40" cy="144.61" r="1.52"/></g>
<path d="M431.60 150.94L449.30 141.06L466.70 138.69L484.40 142.25" stroke="#000" stroke-width="1.1" fill="none" stroke-linejoin="round"/>
<g fill="#000"><circle cx="431.60" cy="150.94" r="1.52"/><circle cx="449.30" cy="141.06" r="1.52"/><circle cx="466.70" cy="138.69" r="1.52"/><circle cx="484.40" cy="142.25" r="1.52"/></g>
<line x1="422.80" y1="160.50" x2="422.80" y2="198.80" stroke="#cfcfcf" stroke-width="0.8"/>
<line x1="422.80" y1="198.80" x2="493.20" y2="198.80" stroke="#cfcfcf" stroke-width="0.8"/>
<line x1="421.60" y1="198.80" x2="422.80" y2="198.80" stroke="#cfcfcf" stroke-width="0.6"/>
<text x="418.90" y="201.00" font-size="4.9" fill="#666" text-anchor="end">0</text>
<line x1="421.60" y1="191.14" x2="422.80" y2="191.14" stroke="#cfcfcf" stroke-width="0.6"/>
<text x="418.90" y="193.34" font-size="4.9" fill="#666" text-anchor="end">20</text>
<line x1="421.60" y1="183.48" x2="422.80" y2="183.48" stroke="#cfcfcf" stroke-width="0.6"/>
<text x="418.90" y="185.68" font-size="4.9" fill="#666" text-anchor="end">40</text>
<line x1="421.60" y1="175.82" x2="422.80" y2="175.82" stroke="#cfcfcf" stroke-width="0.6"/>
<text x="418.90" y="178.02" font-size="4.9" fill="#666" text-anchor="end">60</text>
<line x1="421.60" y1="168.16" x2="422.80" y2="168.16" stroke="#cfcfcf" stroke-width="0.6"/>
<text x="418.90" y="170.36" font-size="4.9" fill="#666" text-anchor="end">80</text>
<line x1="421.60" y1="160.50" x2="422.80" y2="160.50" stroke="#cfcfcf" stroke-width="0.6"/>
<text x="418.90" y="162.70" font-size="4.9" fill="#666" text-anchor="end">100</text>
<text transform="translate(406.30 178.70) rotate(-90)" font-size="4.7" font-weight="bold" fill="#4a4a4a" text-anchor="middle">% of IL-12<tspan font-size="3.2" dy="-1.2">high</tspan><tspan dy="1.2"> DC</tspan></text>
<path d="M429.30 162.20V164.40M429.30 163.30H448.40M448.40 162.20V164.40" stroke="#6a6a6a" stroke-width="0.85" fill="none"/>
<text x="438.85" y="165.00" font-size="6.5" fill="#222" text-anchor="middle">*</text>
<path d="M448.40 158.20V160.40M448.40 159.30H484.30M484.30 158.20V160.40" stroke="#6a6a6a" stroke-width="0.85" fill="none"/>
<text x="466.35" y="161.00" font-size="6.5" fill="#222" text-anchor="middle">*</text>
<path d="M431.60 192.48L449.30 167.78L466.70 169.12L484.40 166.02" stroke="#000" stroke-width="1.1" fill="none" stroke-linejoin="round"/>
<path d="M431.60 193.82L449.30 183.48L466.70 183.48L484.40 178.23" stroke="#000" stroke-width="1.1" fill="none" stroke-linejoin="round"/>
<g fill="#000"><path d="M431.60 191.94L433.49 195.33L429.72 195.33Z"/><path d="M449.30 181.60L451.19 184.99L447.42 184.99Z"/><path d="M466.70 181.60L468.58 184.99L464.81 184.99Z"/><path d="M484.40 176.35L486.28 179.74L482.51 179.74Z"/></g>
<path d="M431.60 194.59L449.30 184.25L466.70 184.25L484.40 179.65" stroke="#000" stroke-width="1.1" fill="none" stroke-linejoin="round"/>
<g fill="#000"><path d="M431.60 192.77L433.41 194.59L431.60 196.40L429.79 194.59Z"/><path d="M449.30 182.43L451.11 184.25L449.30 186.06L447.49 184.25Z"/><path d="M466.70 182.43L468.51 184.25L466.70 186.06L464.89 184.25Z"/><path d="M484.40 177.84L486.21 179.65L484.40 181.46L482.59 179.65Z"/></g>
<path d="M431.60 194.97L449.30 184.78L466.70 185.01L484.40 180.57" stroke="#000" stroke-width="1.1" fill="none" stroke-linejoin="round"/>
<g fill="#000"><rect x="430.15" y="193.52" width="2.90" height="2.90"/><rect x="447.85" y="183.33" width="2.90" height="2.90"/><rect x="465.25" y="183.56" width="2.90" height="2.90"/><rect x="482.95" y="179.12" width="2.90" height="2.90"/></g>
<path d="M431.60 195.20L449.30 185.78L466.70 185.59L484.40 182.71" stroke="#000" stroke-width="1.1" fill="none" stroke-linejoin="round"/>
<g fill="#000"><circle cx="431.60" cy="195.20" r="0.87"/><circle cx="449.30" cy="185.78" r="0.87"/><circle cx="466.70" cy="185.59" r="0.87"/><circle cx="484.40" cy="182.71" r="0.87"/></g>
<path d="M431.60 195.35L449.30 190.37L466.70 186.16L484.40 183.48" stroke="#000" stroke-width="1.1" fill="none" stroke-linejoin="round"/>
<g fill="#000"><circle cx="431.60" cy="195.35" r="1.52"/><circle cx="449.30" cy="190.37" r="1.52"/><circle cx="466.70" cy="186.16" r="1.52"/><circle cx="484.40" cy="183.48" r="1.52"/></g>
<text x="431.60" y="208.1" font-size="4.6" fill="#555" text-anchor="middle">1 : 0</text>
<text x="449.30" y="208.1" font-size="4.6" fill="#555" text-anchor="middle">1 : 4</text>
<text x="466.70" y="208.1" font-size="4.6" fill="#555" text-anchor="middle">1 : 4</text>
<text x="484.40" y="208.1" font-size="4.6" fill="#555" text-anchor="middle">1 : 4</text>
<text x="423.60" y="215.80" font-size="4.4" font-weight="bold" fill="#111" text-anchor="end">Ctrl Ab</text>
<text x="431.60" y="216.00" font-size="5.5" fill="#555" text-anchor="middle">-</text>
<text x="449.30" y="216.00" font-size="5.5" fill="#555" text-anchor="middle">-</text>
<text x="466.70" y="216.30" font-size="5.0" fill="#333" text-anchor="middle">+</text>
<text x="484.40" y="216.00" font-size="5.5" fill="#555" text-anchor="middle">-</text>
<text x="423.60" y="223.90" font-size="4.4" font-weight="bold" fill="#111" text-anchor="end">α-CD27L</text>
<text x="431.60" y="224.10" font-size="5.5" fill="#555" text-anchor="middle">-</text>
<text x="449.30" y="224.10" font-size="5.5" fill="#555" text-anchor="middle">-</text>
<text x="466.70" y="224.10" font-size="5.5" fill="#555" text-anchor="middle">-</text>
<text x="484.40" y="224.40" font-size="5.0" fill="#333" text-anchor="middle">+</text>
<line x1="491.9" y1="97.40" x2="501.9" y2="97.40" stroke="#111" stroke-width="1.3"/>
<g fill="#000" transform="translate(496.9 97.40) scale(0.75) translate(-496.9 -97.40)"><path d="M496.90 95.59L498.71 97.40L496.90 99.21L495.09 97.40Z"/></g>
<text x="503.0" y="98.70" font-size="3.5" fill="#777">sample 1</text>
<line x1="491.9" y1="104.66" x2="501.9" y2="104.66" stroke="#111" stroke-width="1.3"/>
<g fill="#000" transform="translate(496.9 104.66) scale(0.75) translate(-496.9 -104.66)"><circle cx="496.90" cy="104.66" r="1.52"/></g>
<text x="503.0" y="105.96" font-size="3.5" fill="#777">sample 2</text>
<line x1="491.9" y1="111.92" x2="501.9" y2="111.92" stroke="#111" stroke-width="1.3"/>
<g fill="#000" transform="translate(496.9 111.92) scale(0.75) translate(-496.9 -111.92)"><path d="M496.90 110.03L498.78 113.43L495.01 113.43Z"/></g>
<text x="503.0" y="113.22" font-size="3.5" fill="#777">sample 3</text>
<line x1="491.9" y1="119.18" x2="501.9" y2="119.18" stroke="#111" stroke-width="1.3"/>
<g fill="#000" transform="translate(496.9 119.18) scale(0.75) translate(-496.9 -119.18)"><rect x="495.45" y="117.73" width="2.90" height="2.90"/></g>
<text x="503.0" y="120.48" font-size="3.5" fill="#777">sample 4</text>
<line x1="491.9" y1="126.44" x2="501.9" y2="126.44" stroke="#111" stroke-width="1.3"/>
<text x="503.0" y="127.74" font-size="3.5" fill="#777">sample 5</text>
<line x1="491.9" y1="133.70" x2="501.9" y2="133.70" stroke="#111" stroke-width="1.3"/>
<g fill="#000" transform="translate(496.9 133.70) scale(0.75) translate(-496.9 -133.70)"><circle cx="496.90" cy="133.70" r="0.87"/></g>
<text x="503.0" y="135.00" font-size="3.5" fill="#777">sample 6</text>
</svg>
</body></html>
